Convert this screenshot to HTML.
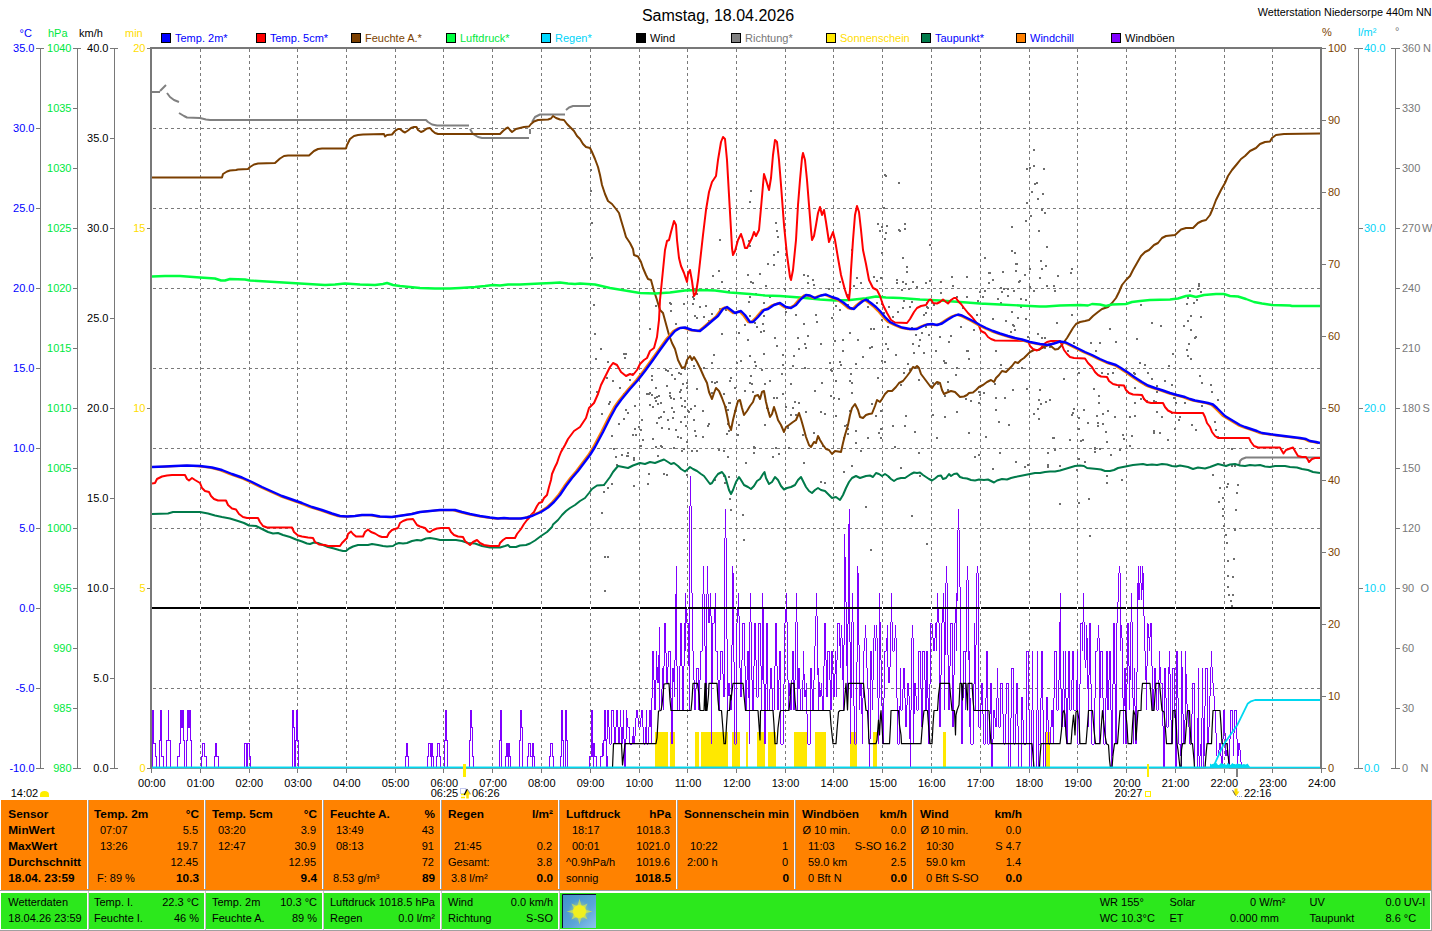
<!DOCTYPE html>
<html><head><meta charset="utf-8"><title>Wetterstation Niedersorpe</title>
<style>
html,body{margin:0;padding:0;background:#fff;}
body{width:1432px;height:931px;position:relative;overflow:hidden;font-family:"Liberation Sans",sans-serif;}
svg{position:absolute;left:0;top:0;}
.t{position:absolute;white-space:nowrap;line-height:1;font-size:11px;height:1em;}
</style></head><body>
<svg width="1432" height="931" viewBox="0 0 1432 931">
<path d="M200.5 49V768 M249.5 49V768 M297.5 49V768 M346.5 49V768 M395.5 49V768 M443.5 49V768 M492.5 49V768 M541.5 49V768 M590.5 49V768 M639.5 49V768 M687.5 49V768 M736.5 49V768 M785.5 49V768 M833.5 49V768 M882.5 49V768 M931.5 49V768 M980.5 49V768 M1029.5 49V768 M1077.5 49V768 M1126.5 49V768 M1175.5 49V768 M1224.5 49V768 M1272.5 49V768 M153 128.5H1321 M153 208.5H1321 M153 288.5H1321 M153 368.5H1321 M153 448.5H1321 M153 528.5H1321 M153 688.5H1321" stroke="#7a7a7a" stroke-width="1" stroke-dasharray="3 3" fill="none" shape-rendering="crispEdges"/>
<path d="M40.5 48V769 M36 48.5H44 M36 768.5H44 M36 48.5H41 M36 128.5H41 M36 208.5H41 M36 288.5H41 M36 368.5H41 M36 448.5H41 M36 528.5H41 M36 608.5H41 M36 688.5H41 M36 768.5H41 M77.5 48V769 M73 48.5H81 M73 768.5H81 M73 48.5H78 M73 108.5H78 M73 168.5H78 M73 228.5H78 M73 288.5H78 M73 348.5H78 M73 408.5H78 M73 468.5H78 M73 528.5H78 M73 588.5H78 M73 648.5H78 M73 708.5H78 M73 768.5H78 M114.5 48V769 M110 48.5H118 M110 768.5H118 M110 48.5H115 M110 138.5H115 M110 228.5H115 M110 318.5H115 M110 408.5H115 M110 498.5H115 M110 588.5H115 M110 678.5H115 M110 768.5H115 M147 48.5H150 M147 228.5H150 M147 408.5H150 M147 588.5H150 M147 768.5H150 M1321 48.5H1326 M1321 120.5H1326 M1321 192.5H1326 M1321 264.5H1326 M1321 336.5H1326 M1321 408.5H1326 M1321 480.5H1326 M1321 552.5H1326 M1321 624.5H1326 M1321 696.5H1326 M1321 768.5H1326 M1358.5 48V769 M1354 48.5H1363 M1358 228.5H1363 M1358 408.5H1363 M1358 588.5H1363 M1354 768.5H1363 M1395.5 48V769 M1391 48.5H1400 M1395 108.5H1400 M1395 168.5H1400 M1395 228.5H1400 M1395 288.5H1400 M1395 348.5H1400 M1395 408.5H1400 M1395 468.5H1400 M1395 528.5H1400 M1395 588.5H1400 M1395 648.5H1400 M1395 708.5H1400 M1391 768.5H1400" stroke="#787878" stroke-width="1" fill="none" shape-rendering="crispEdges"/>
<path d="M151.5 769V773 M200.5 769V773 M249.5 769V773 M297.5 769V773 M346.5 769V773 M395.5 769V773 M443.5 769V773 M492.5 769V773 M541.5 769V773 M590.5 769V773 M639.5 769V773 M687.5 769V773 M736.5 769V773 M785.5 769V773 M833.5 769V773 M882.5 769V773 M931.5 769V773 M980.5 769V773 M1029.5 769V773 M1077.5 769V773 M1126.5 769V773 M1175.5 769V773 M1224.5 769V773 M1272.5 769V773 M1321.5 769V773" stroke="#787878" stroke-width="1" fill="none" shape-rendering="crispEdges"/>
<rect x="161.5" y="33.5" width="9" height="9" fill="#0000ff" stroke="#000" stroke-width="1" shape-rendering="crispEdges"/>
<rect x="256.5" y="33.5" width="9" height="9" fill="#ff0000" stroke="#000" stroke-width="1" shape-rendering="crispEdges"/>
<rect x="351.5" y="33.5" width="9" height="9" fill="#7b3f00" stroke="#000" stroke-width="1" shape-rendering="crispEdges"/>
<rect x="446.5" y="33.5" width="9" height="9" fill="#00ff40" stroke="#000" stroke-width="1" shape-rendering="crispEdges"/>
<rect x="541.5" y="33.5" width="9" height="9" fill="#00d8ff" stroke="#000" stroke-width="1" shape-rendering="crispEdges"/>
<rect x="636.5" y="33.5" width="9" height="9" fill="#000" stroke="#000" stroke-width="1" shape-rendering="crispEdges"/>
<rect x="731.5" y="33.5" width="9" height="9" fill="#808080" stroke="#000" stroke-width="1" shape-rendering="crispEdges"/>
<rect x="826.5" y="33.5" width="9" height="9" fill="#ffe800" stroke="#000" stroke-width="1" shape-rendering="crispEdges"/>
<rect x="921.5" y="33.5" width="9" height="9" fill="#007a4a" stroke="#000" stroke-width="1" shape-rendering="crispEdges"/>
<rect x="1016.5" y="33.5" width="9" height="9" fill="#ff8000" stroke="#000" stroke-width="1" shape-rendering="crispEdges"/>
<rect x="1111.5" y="33.5" width="9" height="9" fill="#8000ff" stroke="#000" stroke-width="1" shape-rendering="crispEdges"/>
<clipPath id="pc"><rect x="152" y="48" width="1169" height="720.5"/></clipPath>
<g clip-path="url(#pc)">
<rect x="655.0" y="732" width="12.9" height="36" fill="#ffe800" shape-rendering="crispEdges"/>
<rect x="670.0" y="732" width="4.9" height="36" fill="#ffe800" shape-rendering="crispEdges"/>
<rect x="695.0" y="732" width="3.9" height="36" fill="#ffe800" shape-rendering="crispEdges"/>
<rect x="700.9" y="732" width="27.3" height="36" fill="#ffe800" shape-rendering="crispEdges"/>
<rect x="732.4" y="732" width="7.6" height="36" fill="#ffe800" shape-rendering="crispEdges"/>
<rect x="746.1" y="732" width="1.9" height="36" fill="#ffe800" shape-rendering="crispEdges"/>
<rect x="757.0" y="732" width="8.0" height="36" fill="#ffe800" shape-rendering="crispEdges"/>
<rect x="768.1" y="732" width="7.9" height="36" fill="#ffe800" shape-rendering="crispEdges"/>
<rect x="794.0" y="732" width="13.0" height="36" fill="#ffe800" shape-rendering="crispEdges"/>
<rect x="815.0" y="732" width="10.9" height="36" fill="#ffe800" shape-rendering="crispEdges"/>
<rect x="850.4" y="732" width="6.4" height="36" fill="#ffe800" shape-rendering="crispEdges"/>
<rect x="873.0" y="732" width="3.9" height="36" fill="#ffe800" shape-rendering="crispEdges"/>
<rect x="943.0" y="732" width="3.0" height="36" fill="#ffe800" shape-rendering="crispEdges"/>
<rect x="1045.8" y="732" width="4.0" height="36" fill="#ffe800" shape-rendering="crispEdges"/>
<path d="M884 174h2v2h-2z M885 175h2v2h-2z M898 182h2v2h-2z M883 207h2v2h-2z M877 223h2v2h-2z M881 226h2v2h-2z M886 225h2v2h-2z M879 230h2v2h-2z M885 232h2v2h-2z M884 238h2v2h-2z M904 223h2v2h-2z M898 229h2v2h-2z M899 230h2v2h-2z M904 228h2v2h-2z M929 244h2v2h-2z M881 252h2v2h-2z M902 257h2v2h-2z M906 266h2v2h-2z M906 271h2v2h-2z M876 280h2v2h-2z M896 282h2v2h-2z M902 281h2v2h-2z M901 289h2v2h-2z M908 288h2v2h-2z M929 280h2v2h-2z M952 285h2v2h-2z M984 257h2v2h-2z M1011 226h2v2h-2z M1011 250h2v2h-2z M1014 252h2v2h-2z M1015 263h2v2h-2z M1016 263h2v2h-2z M1002 271h2v2h-2z M1015 270h2v2h-2z M1024 274h2v2h-2z M1029 268h2v2h-2z M1018 281h2v2h-2z M1019 280h2v2h-2z M1003 288h2v2h-2z M1013 290h2v2h-2z M1029 286h2v2h-2z M1033 149h2v2h-2z M1026 168h2v2h-2z M1029 167h2v2h-2z M1033 165h2v2h-2z M1043 168h2v2h-2z M1034 183h2v2h-2z M1036 182h2v2h-2z M1031 191h2v2h-2z M1042 193h2v2h-2z M1037 198h2v2h-2z M1026 202h2v2h-2z M1041 209h2v2h-2z M1044 212h2v2h-2z M1030 215h2v2h-2z M1025 220h2v2h-2z M1038 230h2v2h-2z M1046 246h2v2h-2z M1040 260h2v2h-2z M1045 265h2v2h-2z M1041 268h2v2h-2z M1071 268h2v2h-2z M1046 285h2v2h-2z M1053 285h2v2h-2z M1198 283h2v2h-2z M1197 288h2v2h-2z M1236 492h2v2h-2z M1222 497h2v2h-2z M1218 501h2v2h-2z M1222 508h2v2h-2z M1235 509h2v2h-2z M1222 515h2v2h-2z M1223 525h2v2h-2z M1234 529h2v2h-2z M1225 534h2v2h-2z M1226 542h2v2h-2z M1227 560h2v2h-2z M1233 558h2v2h-2z M1227 575h2v2h-2z M1232 576h2v2h-2z M1227 586h2v2h-2z M1228 594h2v2h-2z M1232 594h2v2h-2z M1230 600h2v2h-2z M1231 605h2v2h-2z M1088 498h2v2h-2z M1089 535h2v2h-2z M719 239h2v2h-2z M718 270h2v2h-2z M712 275h2v2h-2z M721 281h2v2h-2z M750 190h2v2h-2z M749 201h2v2h-2z M748 240h2v2h-2z M749 245h2v2h-2z M775 222h2v2h-2z M776 230h2v2h-2z M777 236h2v2h-2z M777 251h2v2h-2z M773 254h2v2h-2z M767 263h2v2h-2z M773 264h2v2h-2z M747 274h2v2h-2z M759 273h2v2h-2z M752 282h2v2h-2z M765 285h2v2h-2z M803 274h2v2h-2z M807 275h2v2h-2z M812 279h2v2h-2z M807 282h2v2h-2z M851 249h2v2h-2z M853 285h2v2h-2z M590 169h2v2h-2z M590 190h2v2h-2z M591 222h2v2h-2z M591 257h2v2h-2z M593 304h2v2h-2z M594 333h2v2h-2z M600 348h2v2h-2z M595 358h2v2h-2z M603 491h2v2h-2z M607 487h2v2h-2z M601 512h2v2h-2z M633 485h2v2h-2z M647 483h2v2h-2z M607 556h2v2h-2z M604 590h2v2h-2z M604 556h2v2h-2z M728 476h2v2h-2z M729 498h2v2h-2z M730 509h2v2h-2z M742 514h2v2h-2z M743 539h2v2h-2z M865 506h2v2h-2z M911 515h2v2h-2z M870 549h2v2h-2z M926 543h2v2h-2z M1059 503h2v2h-2z M1078 502h2v2h-2z M606 377h2v2h-2z M612 380h2v2h-2z M623 353h2v2h-2z M596 391h2v2h-2z M607 361h2v2h-2z M639 373h2v2h-2z M632 373h2v2h-2z M624 357h2v2h-2z M623 393h2v2h-2z M619 387h2v2h-2z M625 353h2v2h-2z M629 379h2v2h-2z M609 401h2v2h-2z M634 428h2v2h-2z M627 452h2v2h-2z M627 455h2v2h-2z M613 448h2v2h-2z M615 456h2v2h-2z M634 405h2v2h-2z M601 413h2v2h-2z M638 426h2v2h-2z M623 418h2v2h-2z M618 423h2v2h-2z M611 435h2v2h-2z M621 454h2v2h-2z M626 455h2v2h-2z M633 459h2v2h-2z M625 409h2v2h-2z M633 457h2v2h-2z M635 434h2v2h-2z M627 412h2v2h-2z M632 434h2v2h-2z M608 403h2v2h-2z M633 459h2v2h-2z M603 484h2v2h-2z M616 464h2v2h-2z M611 483h2v2h-2z M683 303h2v2h-2z M670 303h2v2h-2z M675 323h2v2h-2z M684 368h2v2h-2z M665 369h2v2h-2z M655 305h2v2h-2z M669 302h2v2h-2z M649 328h2v2h-2z M670 310h2v2h-2z M642 439h2v2h-2z M655 446h2v2h-2z M684 400h2v2h-2z M663 411h2v2h-2z M672 417h2v2h-2z M667 419h2v2h-2z M687 410h2v2h-2z M661 427h2v2h-2z M651 394h2v2h-2z M688 411h2v2h-2z M667 370h2v2h-2z M660 416h2v2h-2z M641 419h2v2h-2z M671 374h2v2h-2z M671 407h2v2h-2z M673 398h2v2h-2z M675 429h2v2h-2z M641 374h2v2h-2z M673 447h2v2h-2z M652 406h2v2h-2z M669 395h2v2h-2z M658 395h2v2h-2z M658 417h2v2h-2z M655 400h2v2h-2z M678 372h2v2h-2z M668 428h2v2h-2z M655 387h2v2h-2z M680 389h2v2h-2z M649 404h2v2h-2z M674 378h2v2h-2z M656 396h2v2h-2z M681 405h2v2h-2z M682 383h2v2h-2z M656 422h2v2h-2z M684 406h2v2h-2z M651 379h2v2h-2z M666 385h2v2h-2z M680 437h2v2h-2z M649 392h2v2h-2z M680 421h2v2h-2z M680 397h2v2h-2z M646 393h2v2h-2z M679 391h2v2h-2z M657 403h2v2h-2z M660 402h2v2h-2z M686 382h2v2h-2z M640 445h2v2h-2z M683 448h2v2h-2z M661 446h2v2h-2z M686 387h2v2h-2z M677 436h2v2h-2z M673 411h2v2h-2z M654 397h2v2h-2z M651 375h2v2h-2z M669 392h2v2h-2z M680 373h2v2h-2z M685 425h2v2h-2z M686 441h2v2h-2z M684 416h2v2h-2z M640 429h2v2h-2z M648 393h2v2h-2z M673 411h2v2h-2z M660 445h2v2h-2z M670 397h2v2h-2z M652 438h2v2h-2z M663 473h2v2h-2z M657 455h2v2h-2z M666 474h2v2h-2z M648 473h2v2h-2z M686 474h2v2h-2z M681 450h2v2h-2z M721 333h2v2h-2z M692 303h2v2h-2z M703 316h2v2h-2z M711 313h2v2h-2z M728 290h2v2h-2z M692 296h2v2h-2z M696 293h2v2h-2z M738 332h2v2h-2z M694 315h2v2h-2z M705 305h2v2h-2z M707 322h2v2h-2z M719 308h2v2h-2z M699 306h2v2h-2z M696 317h2v2h-2z M725 309h2v2h-2z M693 298h2v2h-2z M708 320h2v2h-2z M729 309h2v2h-2z M730 377h2v2h-2z M711 362h2v2h-2z M714 382h2v2h-2z M711 381h2v2h-2z M713 354h2v2h-2z M716 381h2v2h-2z M693 365h2v2h-2z M711 392h2v2h-2z M736 362h2v2h-2z M734 387h2v2h-2z M703 367h2v2h-2z M696 388h2v2h-2z M723 393h2v2h-2z M729 380h2v2h-2z M726 433h2v2h-2z M695 435h2v2h-2z M690 408h2v2h-2z M728 402h2v2h-2z M694 405h2v2h-2z M734 410h2v2h-2z M691 450h2v2h-2z M696 450h2v2h-2z M723 450h2v2h-2z M737 434h2v2h-2z M729 402h2v2h-2z M728 430h2v2h-2z M725 406h2v2h-2z M727 456h2v2h-2z M693 419h2v2h-2z M718 449h2v2h-2z M702 410h2v2h-2z M702 436h2v2h-2z M727 423h2v2h-2z M708 423h2v2h-2z M707 425h2v2h-2z M694 430h2v2h-2z M738 424h2v2h-2z M727 409h2v2h-2z M724 482h2v2h-2z M723 475h2v2h-2z M714 479h2v2h-2z M784 288h2v2h-2z M744 324h2v2h-2z M785 311h2v2h-2z M762 323h2v2h-2z M749 296h2v2h-2z M749 315h2v2h-2z M755 293h2v2h-2z M774 337h2v2h-2z M754 322h2v2h-2z M760 331h2v2h-2z M769 296h2v2h-2z M750 281h2v2h-2z M763 302h2v2h-2z M748 301h2v2h-2z M756 326h2v2h-2z M747 339h2v2h-2z M763 315h2v2h-2z M763 330h2v2h-2z M781 373h2v2h-2z M764 383h2v2h-2z M782 364h2v2h-2z M776 397h2v2h-2z M763 353h2v2h-2z M751 383h2v2h-2z M773 397h2v2h-2z M782 354h2v2h-2z M749 355h2v2h-2z M749 382h2v2h-2z M782 393h2v2h-2z M752 391h2v2h-2z M755 365h2v2h-2z M776 345h2v2h-2z M744 390h2v2h-2z M754 361h2v2h-2z M769 380h2v2h-2z M740 360h2v2h-2z M761 369h2v2h-2z M750 375h2v2h-2z M787 427h2v2h-2z M767 408h2v2h-2z M753 446h2v2h-2z M745 462h2v2h-2z M785 406h2v2h-2z M787 426h2v2h-2z M778 453h2v2h-2z M754 447h2v2h-2z M772 456h2v2h-2z M753 452h2v2h-2z M788 447h2v2h-2z M766 407h2v2h-2z M764 424h2v2h-2z M775 447h2v2h-2z M768 412h2v2h-2z M839 309h2v2h-2z M803 323h2v2h-2z M839 281h2v2h-2z M860 282h2v2h-2z M815 314h2v2h-2z M835 305h2v2h-2z M839 300h2v2h-2z M813 284h2v2h-2z M795 314h2v2h-2z M847 304h2v2h-2z M846 294h2v2h-2z M810 296h2v2h-2z M856 277h2v2h-2z M828 288h2v2h-2z M848 294h2v2h-2z M815 297h2v2h-2z M831 317h2v2h-2z M816 321h2v2h-2z M798 348h2v2h-2z M797 337h2v2h-2z M849 380h2v2h-2z M804 343h2v2h-2z M821 382h2v2h-2z M851 382h2v2h-2z M834 340h2v2h-2z M820 343h2v2h-2z M830 369h2v2h-2z M805 347h2v2h-2z M849 332h2v2h-2z M851 392h2v2h-2z M862 356h2v2h-2z M831 370h2v2h-2z M838 398h2v2h-2z M842 350h2v2h-2z M855 363h2v2h-2z M835 380h2v2h-2z M790 383h2v2h-2z M840 364h2v2h-2z M829 362h2v2h-2z M804 367h2v2h-2z M792 365h2v2h-2z M839 361h2v2h-2z M833 397h2v2h-2z M857 339h2v2h-2z M850 373h2v2h-2z M793 355h2v2h-2z M807 335h2v2h-2z M830 395h2v2h-2z M814 390h2v2h-2z M842 339h2v2h-2z M855 442h2v2h-2z M860 450h2v2h-2z M846 424h2v2h-2z M851 465h2v2h-2z M855 430h2v2h-2z M847 433h2v2h-2z M798 402h2v2h-2z M795 414h2v2h-2z M802 434h2v2h-2z M843 437h2v2h-2z M822 445h2v2h-2z M813 432h2v2h-2z M847 428h2v2h-2z M803 462h2v2h-2z M844 425h2v2h-2z M818 437h2v2h-2z M835 415h2v2h-2z M790 414h2v2h-2z M849 410h2v2h-2z M824 413h2v2h-2z M805 411h2v2h-2z M820 411h2v2h-2z M792 407h2v2h-2z M802 434h2v2h-2z M794 401h2v2h-2z M824 482h2v2h-2z M843 471h2v2h-2z M820 481h2v2h-2z M867 299h2v2h-2z M880 277h2v2h-2z M896 279h2v2h-2z M905 283h2v2h-2z M873 276h2v2h-2z M912 281h2v2h-2z M916 286h2v2h-2z M925 282h2v2h-2z M881 319h2v2h-2z M918 345h2v2h-2z M888 306h2v2h-2z M909 369h2v2h-2z M903 300h2v2h-2z M867 306h2v2h-2z M876 302h2v2h-2z M869 347h2v2h-2z M923 314h2v2h-2z M928 334h2v2h-2z M917 366h2v2h-2z M926 302h2v2h-2z M885 343h2v2h-2z M926 306h2v2h-2z M884 361h2v2h-2z M873 328h2v2h-2z M887 348h2v2h-2z M925 312h2v2h-2z M913 352h2v2h-2z M919 339h2v2h-2z M925 326h2v2h-2z M892 316h2v2h-2z M915 334h2v2h-2z M883 312h2v2h-2z M912 343h2v2h-2z M911 327h2v2h-2z M897 311h2v2h-2z M911 301h2v2h-2z M895 354h2v2h-2z M909 306h2v2h-2z M881 360h2v2h-2z M907 363h2v2h-2z M921 332h2v2h-2z M923 352h2v2h-2z M887 326h2v2h-2z M870 328h2v2h-2z M927 307h2v2h-2z M902 307h2v2h-2z M871 346h2v2h-2z M881 303h2v2h-2z M875 415h2v2h-2z M903 372h2v2h-2z M880 437h2v2h-2z M880 410h2v2h-2z M892 425h2v2h-2z M904 425h2v2h-2z M900 384h2v2h-2z M877 377h2v2h-2z M918 379h2v2h-2z M867 437h2v2h-2z M878 432h2v2h-2z M871 403h2v2h-2z M880 428h2v2h-2z M905 415h2v2h-2z M914 431h2v2h-2z M888 476h2v2h-2z M894 446h2v2h-2z M919 475h2v2h-2z M918 452h2v2h-2z M900 467h2v2h-2z M966 276h2v2h-2z M947 300h2v2h-2z M933 304h2v2h-2z M966 296h2v2h-2z M962 307h2v2h-2z M940 292h2v2h-2z M979 291h2v2h-2z M951 276h2v2h-2z M940 281h2v2h-2z M976 314h2v2h-2z M973 329h2v2h-2z M960 326h2v2h-2z M956 296h2v2h-2z M977 324h2v2h-2z M977 300h2v2h-2z M968 358h2v2h-2z M979 394h2v2h-2z M944 395h2v2h-2z M939 336h2v2h-2z M966 350h2v2h-2z M955 374h2v2h-2z M932 382h2v2h-2z M943 360h2v2h-2z M947 381h2v2h-2z M967 350h2v2h-2z M935 350h2v2h-2z M950 335h2v2h-2z M937 383h2v2h-2z M965 398h2v2h-2z M978 391h2v2h-2z M948 341h2v2h-2z M945 362h2v2h-2z M956 367h2v2h-2z M947 389h2v2h-2z M944 362h2v2h-2z M974 456h2v2h-2z M944 416h2v2h-2z M970 400h2v2h-2z M936 437h2v2h-2z M956 411h2v2h-2z M932 414h2v2h-2z M968 432h2v2h-2z M978 454h2v2h-2z M978 402h2v2h-2z M989 272h2v2h-2z M1001 291h2v2h-2z M982 303h2v2h-2z M984 290h2v2h-2z M992 318h2v2h-2z M1000 287h2v2h-2z M982 296h2v2h-2z M1011 311h2v2h-2z M1025 318h2v2h-2z M992 279h2v2h-2z M1017 317h2v2h-2z M1005 320h2v2h-2z M1007 288h2v2h-2z M988 272h2v2h-2z M1012 324h2v2h-2z M1025 299h2v2h-2z M1013 325h2v2h-2z M1020 306h2v2h-2z M1000 302h2v2h-2z M988 282h2v2h-2z M1014 329h2v2h-2z M1007 295h2v2h-2z M997 298h2v2h-2z M1020 298h2v2h-2z M1027 336h2v2h-2z M995 350h2v2h-2z M1000 364h2v2h-2z M1021 367h2v2h-2z M1010 331h2v2h-2z M1008 424h2v2h-2z M1004 397h2v2h-2z M1015 461h2v2h-2z M985 436h2v2h-2z M998 421h2v2h-2z M1024 466h2v2h-2z M1012 389h2v2h-2z M1026 388h2v2h-2z M999 452h2v2h-2z M995 397h2v2h-2z M1027 464h2v2h-2z M995 409h2v2h-2z M994 383h2v2h-2z M992 468h2v2h-2z M983 392h2v2h-2z M1039 277h2v2h-2z M1056 322h2v2h-2z M1071 314h2v2h-2z M1070 272h2v2h-2z M1044 337h2v2h-2z M1033 290h2v2h-2z M1054 290h2v2h-2z M1057 275h2v2h-2z M1041 337h2v2h-2z M1037 333h2v2h-2z M1038 399h2v2h-2z M1063 378h2v2h-2z M1037 343h2v2h-2z M1067 350h2v2h-2z M1039 389h2v2h-2z M1073 342h2v2h-2z M1078 372h2v2h-2z M1049 346h2v2h-2z M1049 399h2v2h-2z M1044 347h2v2h-2z M1037 408h2v2h-2z M1047 464h2v2h-2z M1033 413h2v2h-2z M1076 469h2v2h-2z M1078 417h2v2h-2z M1047 466h2v2h-2z M1054 449h2v2h-2z M1045 401h2v2h-2z M1047 452h2v2h-2z M1069 439h2v2h-2z M1053 437h2v2h-2z M1052 437h2v2h-2z M1071 414h2v2h-2z M1059 465h2v2h-2z M1072 412h2v2h-2z M1078 458h2v2h-2z M1038 418h2v2h-2z M1040 403h2v2h-2z M1078 428h2v2h-2z M1073 408h2v2h-2z M1080 440h2v2h-2z M1119 449h2v2h-2z M1114 416h2v2h-2z M1118 386h2v2h-2z M1107 410h2v2h-2z M1087 422h2v2h-2z M1096 415h2v2h-2z M1098 402h2v2h-2z M1097 422h2v2h-2z M1129 445h2v2h-2z M1123 438h2v2h-2z M1094 448h2v2h-2z M1093 388h2v2h-2z M1105 431h2v2h-2z M1097 425h2v2h-2z M1094 447h2v2h-2z M1102 413h2v2h-2z M1106 441h2v2h-2z M1129 416h2v2h-2z M1102 423h2v2h-2z M1083 409h2v2h-2z M1122 434h2v2h-2z M1082 439h2v2h-2z M1099 448h2v2h-2z M1098 395h2v2h-2z M1107 373h2v2h-2z M1101 372h2v2h-2z M1115 341h2v2h-2z M1095 350h2v2h-2z M1099 342h2v2h-2z M1112 372h2v2h-2z M1109 328h2v2h-2z M1090 342h2v2h-2z M1110 454h2v2h-2z M1084 461h2v2h-2z M1094 451h2v2h-2z M1106 482h2v2h-2z M1106 475h2v2h-2z M1121 479h2v2h-2z M1175 402h2v2h-2z M1164 380h2v2h-2z M1173 397h2v2h-2z M1153 432h2v2h-2z M1144 384h2v2h-2z M1171 412h2v2h-2z M1134 373h2v2h-2z M1147 372h2v2h-2z M1171 384h2v2h-2z M1143 398h2v2h-2z M1155 401h2v2h-2z M1161 416h2v2h-2z M1151 378h2v2h-2z M1178 419h2v2h-2z M1134 402h2v2h-2z M1167 439h2v2h-2z M1133 372h2v2h-2z M1153 400h2v2h-2z M1174 428h2v2h-2z M1146 400h2v2h-2z M1159 432h2v2h-2z M1140 398h2v2h-2z M1134 415h2v2h-2z M1131 435h2v2h-2z M1156 411h2v2h-2z M1134 387h2v2h-2z M1153 430h2v2h-2z M1156 391h2v2h-2z M1179 416h2v2h-2z M1156 385h2v2h-2z M1144 364h2v2h-2z M1136 338h2v2h-2z M1160 325h2v2h-2z M1168 365h2v2h-2z M1172 353h2v2h-2z M1140 304h2v2h-2z M1151 322h2v2h-2z M1139 362h2v2h-2z M1187 355h2v2h-2z M1200 291h2v2h-2z M1200 316h2v2h-2z M1187 297h2v2h-2z M1183 325h2v2h-2z M1190 358h2v2h-2z M1198 285h2v2h-2z M1190 315h2v2h-2z M1186 303h2v2h-2z M1188 343h2v2h-2z M1189 290h2v2h-2z M1187 320h2v2h-2z M1193 302h2v2h-2z M1196 299h2v2h-2z M1195 336h2v2h-2z M1186 349h2v2h-2z M1190 329h2v2h-2z M1194 337h2v2h-2z M1199 375h2v2h-2z M1214 421h2v2h-2z M1201 405h2v2h-2z M1191 424h2v2h-2z M1210 384h2v2h-2z M1215 429h2v2h-2z M1195 429h2v2h-2z M1201 382h2v2h-2z M1211 391h2v2h-2z M1212 405h2v2h-2z M1184 402h2v2h-2z M1217 399h2v2h-2z M1226 486h2v2h-2z M1223 462h2v2h-2z M1227 483h2v2h-2z M1217 436h2v2h-2z M1231 465h2v2h-2z M1219 487h2v2h-2z M1234 465h2v2h-2z M1237 484h2v2h-2z M1231 448h2v2h-2z M1212 474h2v2h-2z" fill="#6e6e6e" shape-rendering="crispEdges"/>
<path d="M152.0 92.0 L160.0 92.0" stroke="#808080" stroke-width="2" fill="none" stroke-linejoin="round" />
<path d="M160.0 91.0 L163.0 88.0 L166.0 85.0" stroke="#808080" stroke-width="2" fill="none" stroke-linejoin="round" />
<path d="M167.0 93.0 L170.0 97.0 L174.0 100.0 L179.0 102.0" stroke="#808080" stroke-width="2" fill="none" stroke-linejoin="round" />
<path d="M179.0 113.0 L184.0 116.0 L187.0 117.5 L200.0 118.0 L206.0 119.5 L210.0 120.0 L426.0 120.0 L428.0 122.0 L432.0 124.5 L437.0 125.5 L469.0 125.5" stroke="#808080" stroke-width="2" fill="none" stroke-linejoin="round" />
<path d="M470.0 129.0 L473.0 134.0 L478.0 137.0 L482.0 138.0 L529.0 138.0" stroke="#808080" stroke-width="2" fill="none" stroke-linejoin="round" />
<path d="M530.0 134.0 L530.0 129.0" stroke="#808080" stroke-width="2" fill="none" stroke-linejoin="round" />
<path d="M532.0 122.0 L535.0 117.0 L540.0 114.5 L565.0 114.5" stroke="#808080" stroke-width="2" fill="none" stroke-linejoin="round" />
<path d="M566.0 110.0 L569.0 107.5 L573.0 106.0 L590.0 106.0" stroke="#808080" stroke-width="2" fill="none" stroke-linejoin="round" />
<path d="M1239.0 466.0 L1240.0 461.0 L1242.0 459.0 L1246.0 457.5 L1320.0 457.5" stroke="#808080" stroke-width="2" fill="none" stroke-linejoin="round" />
<path d="M152.0 177.5 L222.0 177.5 L223.0 174.0 L227.0 171.5 L230.0 170.5 L236.0 170.0 L238.0 169.5 L248.0 169.0 L250.0 167.0 L254.0 164.5 L258.0 163.5 L275.0 163.0 L280.0 158.5 L284.0 156.0 L288.0 155.5 L309.0 155.5 L314.0 151.0 L318.0 149.0 L322.0 148.5 L346.0 148.5 L347.0 145.0 L350.0 139.0 L354.0 136.0 L358.0 135.0 L363.0 134.5 L384.0 134.0 L385.0 136.5 L387.0 135.0 L392.0 134.5 L395.0 131.0 L398.0 129.0 L400.0 129.0 L403.0 131.5 L405.0 132.5 L408.0 130.5 L411.0 128.0 L414.0 127.0 L416.5 127.0 L418.0 130.0 L421.0 132.0 L423.5 131.0 L427.0 128.5 L430.0 128.0 L432.0 130.5 L435.0 133.0 L438.0 134.0 L500.0 134.0 L503.0 131.0 L506.0 128.5 L508.0 127.5 L510.0 130.0 L512.0 132.0 L516.0 129.0 L520.0 128.0 L524.0 127.0 L529.0 126.5 L531.0 124.0 L534.0 121.5 L538.0 120.0 L548.0 119.5 L551.0 118.5 L553.0 116.0 L556.0 118.0 L560.0 119.5 L564.0 120.0 L567.0 124.0 L570.0 127.0 L574.0 131.0 L577.0 136.0 L580.0 139.0 L583.0 144.0 L586.0 147.0 L590.0 148.0 L592.0 152.0 L595.0 159.0 L598.0 167.0 L600.0 175.0 L602.0 185.0 L605.0 194.0 L608.0 201.0 L612.0 204.0 L616.0 209.0 L619.0 213.0 L621.0 220.0 L624.0 230.0 L626.0 237.0 L630.0 243.0 L633.0 249.0 L634.0 255.0 L638.0 256.5 L641.0 262.0 L643.0 268.0 L646.0 275.0 L648.0 279.0 L651.0 280.0 L654.0 291.0 L657.0 300.0 L660.0 310.0 L663.0 313.0 L666.0 324.0 L669.0 335.0 L672.0 343.0 L675.0 349.0 L678.0 360.0 L682.0 368.0 L685.0 367.0 L687.0 360.0 L690.0 356.0 L692.0 360.0 L694.0 357.0 L697.0 362.0 L700.0 368.0 L704.0 377.0 L707.0 383.0 L709.0 392.0 L712.0 399.0 L714.0 393.0 L716.0 388.0 L719.0 391.0 L722.0 398.0 L725.0 406.0 L727.0 415.0 L729.0 425.0 L731.0 430.0 L733.0 420.0 L736.0 408.0 L738.0 401.0 L740.0 400.0 L742.0 408.0 L744.0 415.0 L747.0 411.0 L750.0 406.0 L753.0 402.0 L755.0 396.0 L758.0 395.0 L760.0 399.0 L762.0 392.0 L764.0 391.0 L766.0 402.0 L768.0 410.0 L770.0 417.0 L772.0 414.0 L774.0 407.0 L776.0 413.0 L778.0 420.0 L781.0 425.0 L784.0 432.0 L786.0 427.0 L789.0 425.0 L793.0 422.0 L796.0 420.0 L799.0 413.0 L801.0 419.0 L803.0 426.0 L806.0 437.0 L809.0 445.0 L811.0 447.0 L814.0 442.0 L816.0 443.0 L818.0 436.0 L820.0 440.0 L823.0 445.0 L826.0 449.0 L829.0 450.0 L832.0 454.0 L835.0 451.0 L838.0 451.5 L841.0 452.0 L843.0 443.0 L845.0 435.0 L848.0 425.0 L850.0 415.0 L852.0 408.0 L855.0 404.0 L858.0 410.0 L860.0 417.0 L863.0 418.0 L866.0 415.0 L869.0 414.0 L872.0 413.5 L875.0 406.0 L877.0 400.0 L880.0 402.0 L882.0 399.0 L885.0 394.0 L888.0 391.0 L892.0 391.0 L896.0 387.0 L899.0 383.0 L903.0 381.0 L907.0 376.0 L910.0 372.0 L913.0 367.0 L915.0 368.0 L917.0 366.0 L919.0 368.0 L921.0 374.0 L924.0 378.0 L927.0 382.0 L930.0 386.0 L932.0 388.0 L934.0 385.0 L937.0 382.0 L940.0 383.0 L942.0 390.0 L944.0 394.0 L947.0 392.5 L951.0 391.0 L955.0 392.0 L958.0 395.0 L960.0 397.0 L964.0 396.5 L967.0 395.0 L969.0 393.0 L973.0 392.5 L976.0 390.0 L979.0 387.0 L983.0 385.0 L987.0 382.0 L991.0 380.0 L994.0 382.0 L996.0 378.0 L999.0 375.0 L1002.0 371.0 L1006.0 372.0 L1009.0 369.0 L1012.0 366.0 L1015.0 362.0 L1018.0 363.0 L1021.0 360.0 L1024.0 358.0 L1027.0 355.0 L1030.0 352.0 L1034.0 350.0 L1039.0 350.0 L1042.0 348.0 L1046.0 346.0 L1049.0 344.5 L1052.0 347.0 L1055.0 349.5 L1058.0 349.0 L1061.0 346.0 L1064.0 342.0 L1067.0 338.0 L1070.0 333.0 L1073.0 328.0 L1076.0 324.0 L1080.0 322.0 L1085.0 321.0 L1089.0 320.0 L1093.0 316.0 L1098.0 312.0 L1102.0 309.0 L1108.0 307.0 L1112.0 303.0 L1116.0 298.0 L1119.0 292.0 L1122.0 285.0 L1126.0 280.0 L1130.0 276.0 L1133.0 270.0 L1137.0 263.0 L1141.0 256.0 L1145.0 252.0 L1149.0 250.0 L1154.0 245.0 L1158.0 243.0 L1162.0 238.0 L1166.0 236.0 L1175.0 235.0 L1181.0 229.5 L1186.0 228.0 L1193.0 228.0 L1198.0 223.0 L1202.0 221.0 L1206.0 220.0 L1210.0 215.0 L1213.0 208.0 L1216.0 200.0 L1221.0 190.0 L1225.0 183.0 L1228.0 176.0 L1232.0 170.0 L1237.0 164.0 L1241.0 159.0 L1245.0 156.0 L1250.0 151.0 L1256.0 148.0 L1260.0 144.0 L1265.0 142.0 L1270.0 141.5 L1272.0 138.0 L1276.0 135.0 L1284.0 134.0 L1320.0 133.5" stroke="#7b3f00" stroke-width="2" fill="none" stroke-linejoin="round" />
<path d="M152.0 276.5 L165.0 276.0 L180.0 276.0 L200.0 277.5 L215.0 278.5 L221.0 280.5 L225.0 280.5 L230.0 279.0 L245.0 279.5 L250.0 280.5 L275.0 282.0 L300.0 283.5 L325.0 285.0 L335.0 284.5 L345.0 283.5 L360.0 284.5 L375.0 285.0 L383.0 284.0 L387.0 283.0 L393.0 285.0 L400.0 286.0 L420.0 288.0 L435.0 288.5 L450.0 288.5 L460.0 288.0 L475.0 287.0 L485.0 286.0 L493.0 285.0 L500.0 285.5 L508.0 284.5 L520.0 284.5 L540.0 283.5 L552.0 283.0 L560.0 282.5 L568.0 283.5 L575.0 284.0 L580.0 283.5 L595.0 284.5 L610.0 288.0 L625.0 290.5 L640.0 293.0 L655.0 293.5 L670.0 292.5 L685.0 290.5 L700.0 290.0 L715.0 290.5 L730.0 292.5 L750.0 294.0 L765.0 295.5 L780.0 296.0 L800.0 297.5 L820.0 299.5 L835.0 300.5 L850.0 300.0 L866.0 298.3 L876.0 296.5 L886.0 297.5 L900.0 298.0 L920.0 299.5 L940.0 300.5 L960.0 302.0 L980.0 303.5 L1000.0 304.5 L1020.0 305.5 L1040.0 306.5 L1046.0 306.5 L1060.0 305.5 L1080.0 305.0 L1088.0 305.5 L1092.0 304.0 L1100.0 304.5 L1106.0 306.0 L1112.0 304.5 L1126.0 304.0 L1132.0 302.0 L1140.0 301.0 L1150.0 300.0 L1170.0 299.5 L1178.0 298.5 L1186.0 296.0 L1190.0 295.5 L1196.0 297.0 L1204.0 295.0 L1216.0 294.0 L1224.0 294.0 L1230.0 296.0 L1238.0 296.5 L1246.0 299.0 L1254.0 302.0 L1262.0 303.5 L1272.0 305.0 L1290.0 305.5 L1292.0 306.0 L1320.0 306.0" stroke="#00ff40" stroke-width="2.4" fill="none" stroke-linejoin="round" />
<path d="M152.5 768V710H153.5V743H155.5V756H156.5V768M159.5 768V740H160.5V710H161.5V756H163.5V768M166.5 768V740H168.5V710H168.5V740H170.5V768M177.5 768V756H179.5V743H180.5V710H181.5V727H182.5V710H183.5V740H184.5V768M186.5 768V740H187.5V710H188.5V727H189.5V710H190.5V740H191.5V768M201.5 768V756H202.5V743H204.5V756H206.5V768M214.5 768V756H215.5V743H216.5V756H218.5V768M244.5 768V743H246.5V756H246.5V768M247.5 768V756H247.5V743H249.5V756H250.5V768M292.5 768V710H293.5V727H294.5V768M295.5 768V740H296.5V710H297.5V740H298.5V768M405.5 768V756H406.5V743H407.5V756H408.5V768M427.5 768V756H428.5V743H430.5V756H431.5V768M431.5 768V756H431.5V743H432.5V756H433.5V768M436.5 768V756H437.5V743H439.5V756H440.5V768M444.5 768V740H445.5V710H446.5V740H447.5V768M469.5 768V740H470.5V710H471.5V727H472.5V756H473.5V768M499.5 768V740H500.5V710H501.5V768M505.5 768V756H506.5V743H507.5V756H508.5V768M508.5 768V756H508.5V743H509.5V756H510.5V768M519.5 768V740H520.5V710H521.5V727H522.5V768M527.5 768V756H528.5V743H530.5V756H532.5V768M532.5 768V756H532.5V743H533.5V756H534.5V768M549.5 768V756H550.5V743H552.5V756H553.5V768M560.5 768V756H561.5V710H562.5V740H563.5V768M565.5 768V740H565.5V710H566.5V740H567.5V768M589.5 768V756H591.5V710H592.5V756H593.5V768M593.5 768V756H593.5V743H594.5V756H596.5V768M600.5 768V756H602.5V743H603.5V756H603.5V740H604.5V710H605.5V740H606.5V756H607.5V768" stroke="#8000ff" stroke-width="1" fill="none" shape-rendering="crispEdges"/>
<path d="M606.5 739V768M607.5 710V739M608.5 710V727M609.5 727V744M610.5 744V745M611.5 710V744M612.5 710V711M613.5 710V727M614.5 727V744M615.5 727V744M616.5 710V727M617.5 710V727M618.5 727V744M619.5 727V744M620.5 710V727M621.5 727V744M622.5 727V744M623.5 710V739M624.5 739V768M625.5 739V768M626.5 710V739M627.5 718V727M628.5 727V728M629.5 727V744M630.5 744V745M631.5 744V745M632.5 736V744M633.5 727V744M634.5 736V744M635.5 718V736M636.5 710V718M637.5 710V718M638.5 718V727M639.5 727V728M640.5 718V727M641.5 710V718M642.5 710V727M643.5 727V744M644.5 744V745M645.5 727V744M646.5 710V744M647.5 744V745M648.5 727V744M649.5 710V727M650.5 710V727M651.5 698V744M652.5 651V698M653.5 651V680M654.5 680V710M655.5 680V710M656.5 651V680M657.5 667V683M658.5 655V683M659.5 627V710M660.5 710V711M661.5 689V710M662.5 668V689M663.5 666V710M664.5 623V666M665.5 623V653M666.5 653V683M667.5 667V683M668.5 651V667M669.5 651V652M670.5 651V698M671.5 698V744M672.5 668V744M673.5 668V682M674.5 660V697M675.5 594V660M676.5 566V666M677.5 666V710M678.5 710V711M679.5 666V710M680.5 623V666M681.5 623V666M682.5 666V710M683.5 666V710M684.5 623V666M685.5 593V651M686.5 608V623M687.5 623V624M688.5 623V666M689.5 506V710M690.5 476V506M691.5 506V593M692.5 593V651M693.5 651V680M694.5 680V710M695.5 689V710M696.5 668V689M697.5 668V669M698.5 668V710M699.5 680V710M700.5 651V680M701.5 651V652M702.5 594V651M703.5 566V594M704.5 594V646M705.5 646V689M706.5 594V710M707.5 566V594M708.5 594V623M709.5 608V623M710.5 593V616M711.5 616V744M712.5 623V684M713.5 623V624M714.5 608V623M715.5 593V651M716.5 651V652M717.5 651V680M718.5 680V710M719.5 680V710M720.5 651V680M721.5 651V652M722.5 651V674M723.5 674V697M724.5 538V697M725.5 509V538M726.5 538V639M727.5 639V710M728.5 683V696M729.5 683V696M730.5 696V710M731.5 645V710M732.5 566V645M733.5 573V662M734.5 662V744M735.5 744V745M736.5 623V744M737.5 608V623M738.5 593V616M739.5 616V668M740.5 668V697M741.5 660V697M742.5 623V660M743.5 623V624M744.5 623V666M745.5 666V710M746.5 680V710M747.5 651V680M748.5 651V698M749.5 622V744M750.5 593V622M751.5 622V680M752.5 680V710M753.5 666V710M754.5 623V666M755.5 623V660M756.5 660V697M757.5 697V698M758.5 623V697M759.5 623V624M760.5 623V666M761.5 666V710M762.5 593V680M763.5 608V684M764.5 684V744M765.5 684V744M766.5 623V684M767.5 623V710M768.5 710V711M769.5 689V710M770.5 668V689M771.5 668V689M772.5 689V710M773.5 710V711M774.5 666V710M775.5 623V666M776.5 623V666M777.5 666V710M778.5 680V710M779.5 651V680M780.5 651V744M781.5 744V745M782.5 744V745M783.5 684V744M784.5 623V684M785.5 608V623M786.5 593V622M787.5 622V680M788.5 680V710M789.5 683V696M790.5 696V710M791.5 680V710M792.5 651V680M793.5 651V710M794.5 680V710M795.5 622V680M796.5 593V622M797.5 622V710M798.5 668V689M799.5 668V689M800.5 689V710M801.5 710V711M802.5 680V710M803.5 651V680M804.5 674V697M805.5 690V697M806.5 683V714M807.5 714V744M808.5 744V745M809.5 744V745M810.5 668V744M811.5 668V689M812.5 689V710M813.5 680V710M814.5 646V680M815.5 616V646M816.5 593V616M817.5 616V675M818.5 668V710M819.5 682V697M820.5 690V697M821.5 683V696M822.5 696V710M823.5 666V710M824.5 623V666M825.5 623V660M826.5 660V697M827.5 651V697M828.5 651V652M829.5 651V680M830.5 680V710M831.5 651V710M832.5 651V674M833.5 674V697M834.5 674V697M835.5 651V674M836.5 660V697M837.5 623V660M838.5 623V624M839.5 623V646M840.5 638V668M841.5 625V638M842.5 638V680M843.5 645V710M844.5 534V645M845.5 557V602M846.5 602V666M847.5 624V710M848.5 524V624M849.5 509V642M850.5 642V744M851.5 622V698M852.5 593V622M853.5 622V706M854.5 706V744M855.5 744V745M856.5 662V744M857.5 566V662M858.5 573V645M859.5 645V710M860.5 683V696M861.5 683V714M862.5 698V744M863.5 651V698M864.5 638V651M865.5 625V638M866.5 638V668M867.5 668V689M868.5 689V739M869.5 739V768M870.5 651V739M871.5 651V680M872.5 680V710M873.5 638V680M874.5 625V638M875.5 638V651M876.5 625V638M877.5 638V698M878.5 698V744M879.5 593V698M880.5 622V660M881.5 660V706M882.5 706V744M883.5 698V744M884.5 651V698M885.5 651V652M886.5 638V651M887.5 625V667M888.5 667V683M889.5 667V683M890.5 622V667M891.5 593V622M892.5 622V651M893.5 651V652M894.5 638V651M895.5 625V638M896.5 638V698M897.5 698V744M898.5 744V745M899.5 706V744M900.5 668V710M901.5 710V711M902.5 689V710M903.5 668V689M904.5 668V698M905.5 698V727M906.5 705V727M907.5 683V705M908.5 683V696M909.5 696V739M910.5 710V768M911.5 638V710M912.5 625V638M913.5 638V744M914.5 683V714M915.5 683V696M916.5 696V710M917.5 710V711M918.5 651V710M919.5 651V652M920.5 651V689M921.5 689V727M922.5 651V727M923.5 651V652M924.5 651V680M925.5 680V710M926.5 651V710M927.5 651V698M928.5 698V744M929.5 684V744M930.5 623V684M931.5 623V624M932.5 624V638M933.5 638V651M934.5 638V651M935.5 623V638M936.5 622V651M937.5 593V622M938.5 608V623M939.5 623V727M940.5 675V727M941.5 623V675M942.5 608V623M943.5 593V622M944.5 622V710M945.5 583V655M946.5 566V583M947.5 583V655M948.5 655V710M949.5 666V710M950.5 623V666M951.5 623V624M952.5 623V727M953.5 675V727M954.5 623V675M955.5 608V623M956.5 593V651M957.5 530V601M958.5 509V530M959.5 530V587M960.5 587V684M961.5 684V744M962.5 698V744M963.5 651V698M964.5 651V652M965.5 651V710M966.5 580V652M967.5 566V580M968.5 580V660M969.5 651V727M970.5 698V744M971.5 744V745M972.5 744V745M973.5 684V744M974.5 623V684M975.5 645V710M976.5 573V645M977.5 566V573M978.5 573V727M979.5 727V728M980.5 705V727M981.5 683V705M982.5 683V714M983.5 714V744M984.5 744V745M985.5 698V744M986.5 651V698M987.5 651V744M988.5 744V745M989.5 714V744M990.5 683V714M991.5 683V768M992.5 739V768M993.5 710V739M994.5 710V718M995.5 718V727M996.5 698V727M997.5 668V698M998.5 698V727M999.5 727V728M1000.5 683V727M1001.5 683V684M1002.5 683V714M1003.5 714V744M1004.5 744V745M1005.5 714V744M1006.5 683V714M1007.5 683V684M1008.5 683V768M1010.5 718V768M1011.5 668V718M1012.5 668V669M1013.5 668V744M1014.5 744V745M1015.5 714V744M1016.5 683V714M1017.5 683V726M1018.5 726V768M1021.5 697V768M1022.5 697V720M1023.5 720V744M1024.5 744V745M1025.5 744V745M1026.5 651V744M1027.5 651V652M1028.5 651V710M1029.5 710V768M1031.5 710V768M1032.5 651V710M1033.5 710V768M1036.5 710V768M1037.5 651V710M1038.5 710V768M1039.5 744V745M1040.5 698V744M1041.5 651V698M1042.5 651V710M1043.5 710V768M1045.5 732V768M1046.5 697V732M1047.5 697V720M1048.5 720V744M1049.5 744V745M1050.5 727V744M1051.5 710V727M1052.5 710V727M1053.5 698V744M1054.5 651V698M1055.5 651V652M1056.5 651V710M1057.5 710V711M1058.5 680V710M1059.5 622V680M1060.5 593V689M1061.5 689V727M1062.5 689V727M1063.5 651V689M1064.5 689V727M1065.5 651V698M1066.5 698V744M1067.5 698V744M1068.5 651V698M1069.5 651V710M1070.5 710V711M1071.5 680V710M1072.5 651V680M1073.5 651V710M1074.5 710V711M1075.5 710V711M1076.5 680V710M1077.5 651V744M1078.5 744V745M1079.5 684V744M1080.5 623V684M1081.5 623V624M1082.5 622V651M1083.5 593V622M1084.5 622V660M1085.5 660V668M1086.5 625V660M1087.5 638V689M1088.5 675V727M1089.5 623V675M1090.5 623V684M1091.5 684V744M1092.5 744V745M1093.5 744V745M1094.5 698V744M1095.5 651V698M1096.5 651V652M1097.5 638V651M1098.5 625V638M1099.5 638V744M1100.5 651V698M1101.5 651V652M1102.5 651V698M1103.5 698V744M1104.5 744V745M1105.5 698V744M1106.5 651V698M1107.5 651V710M1108.5 680V710M1109.5 651V680M1110.5 651V710M1111.5 710V768M1112.5 684V756M1113.5 623V684M1114.5 623V684M1115.5 684V744M1116.5 623V744M1117.5 602V623M1118.5 573V602M1119.5 566V573M1120.5 573V651M1121.5 625V638M1122.5 638V698M1123.5 698V744M1124.5 668V706M1125.5 668V744M1126.5 684V744M1127.5 623V684M1128.5 623V666M1129.5 666V710M1130.5 622V680M1131.5 593V622M1132.5 622V698M1133.5 698V744M1134.5 668V706M1135.5 706V744M1136.5 672V744M1137.5 583V672M1138.5 566V600M1139.5 583V600M1140.5 566V583M1141.5 583V600M1142.5 566V590M1143.5 573V616M1144.5 616V651M1145.5 651V680M1146.5 666V710M1147.5 623V666M1148.5 624V638M1149.5 637V651M1150.5 623V637M1151.5 623V666M1152.5 666V710M1153.5 689V710M1154.5 668V689M1155.5 668V689M1156.5 689V710M1157.5 710V711M1158.5 680V710M1159.5 651V680M1160.5 667V683M1161.5 683V684M1162.5 683V726M1163.5 726V768M1164.5 668V768M1165.5 668V698M1166.5 698V727M1167.5 727V728M1168.5 667V727M1169.5 651V674M1170.5 674V720M1171.5 720V744M1172.5 668V744M1173.5 668V669M1174.5 668V718M1175.5 718V768M1176.5 651V768M1177.5 651V698M1178.5 698V744M1179.5 744V745M1180.5 744V756M1181.5 651V768M1182.5 667V714M1183.5 714V744M1184.5 720V744M1185.5 651V720M1186.5 674V704M1187.5 704V710M1188.5 710V727M1189.5 727V744M1190.5 744V745M1191.5 714V744M1192.5 683V714M1193.5 683V684M1194.5 683V768M1197.5 718V768M1198.5 668V756M1199.5 756V768M1200.5 744V756M1201.5 718V768M1202.5 668V718M1203.5 718V768M1204.5 706V756M1205.5 668V706M1206.5 668V669M1207.5 668V744M1208.5 727V744M1209.5 696V727M1210.5 667V696M1211.5 651V667M1212.5 667V683M1213.5 683V696M1214.5 696V710M1215.5 710V733M1216.5 733V756M1217.5 756V757M1218.5 750V756M1219.5 743V750M1220.5 743V756M1221.5 756V768M1222.5 739V768M1223.5 710V739M1224.5 710V733M1225.5 733V756M1226.5 750V756M1227.5 743V756M1228.5 756V768M1229.5 739V768M1230.5 710V739M1231.5 710V711M1232.5 710V733M1233.5 733V756M1234.5 710V733M1235.5 710V711M1236.5 710V739M1237.5 739V768M1238.5 743V756M1239.5 743V750M1240.5 750V762M1241.5 762V768" stroke="#8000ff" stroke-width="1" fill="none" shape-rendering="crispEdges"/>
<path d="M152.0 768.0 L612.5 768.0 L613.5 743.7 L621.5 743.7 L622.5 765.0 L624.5 748.0 L625.0 743.7 L656.0 743.7 L657.0 738.0 L658.0 720.0 L658.5 711.0 L661.0 710.5 L662.0 705.0 L663.0 695.0 L664.0 684.0 L669.0 683.3 L670.0 700.0 L671.0 710.5 L691.0 710.5 L692.0 700.0 L693.0 683.3 L697.5 683.3 L699.0 695.0 L700.0 710.5 L704.0 710.5 L705.0 683.3 L705.5 710.5 L706.0 683.3 L706.5 710.5 L707.0 710.5 L708.5 695.0 L709.0 683.3 L717.0 683.3 L718.0 700.0 L719.0 710.5 L721.5 710.5 L723.0 730.0 L724.0 743.7 L725.5 743.7 L726.5 725.0 L727.5 710.5 L729.5 710.5 L730.5 695.0 L731.0 700.0 L733.0 683.3 L743.0 683.3 L744.0 695.0 L745.5 710.5 L758.0 710.5 L759.0 725.0 L760.0 740.0 L760.5 710.5 L773.0 710.5 L774.0 725.0 L775.0 743.7 L777.0 743.7 L778.0 728.0 L780.0 712.0 L781.0 710.5 L789.0 710.5 L790.0 700.0 L791.0 683.3 L794.0 683.3 L795.0 700.0 L796.0 710.5 L830.0 710.5 L831.0 725.0 L833.0 743.7 L836.0 743.7 L837.0 730.0 L838.5 712.0 L840.0 710.5 L844.0 710.5 L845.0 695.0 L846.0 683.3 L847.5 710.0 L848.5 683.3 L863.5 683.3 L864.5 695.0 L866.0 710.5 L867.5 710.5 L868.5 730.0 L869.0 743.7 L876.0 743.7 L877.0 740.0 L878.5 720.0 L879.5 735.0 L880.5 715.0 L881.0 710.5 L882.0 725.0 L883.0 743.7 L889.5 743.7 L890.5 725.0 L891.0 710.5 L898.5 710.5 L899.5 725.0 L901.0 735.0 L901.5 743.7 L921.0 743.7 L922.0 730.0 L923.5 715.0 L924.0 710.5 L927.5 710.5 L928.5 725.0 L930.0 743.7 L932.0 743.7 L933.0 725.0 L934.0 710.5 L937.5 710.5 L938.5 695.0 L940.0 683.3 L949.5 683.3 L950.5 695.0 L952.0 710.5 L954.5 710.5 L955.5 735.0 L956.0 715.0 L957.0 710.5 L959.0 705.0 L960.0 683.3 L961.5 683.3 L962.5 700.0 L963.0 683.3 L966.0 683.3 L967.5 710.0 L968.0 683.3 L972.0 683.3 L973.0 700.0 L974.0 710.5 L989.0 710.5 L990.0 730.0 L991.0 743.7 L1032.0 743.7 L1033.0 755.0 L1034.0 768.0 L1039.5 768.0 L1040.0 757.0 L1041.0 743.7 L1060.0 743.7 L1061.5 730.0 L1063.0 712.0 L1064.0 710.5 L1065.0 715.0 L1066.0 735.0 L1067.0 743.7 L1071.0 743.7 L1072.0 730.0 L1073.5 715.0 L1074.0 720.0 L1075.0 735.0 L1076.0 712.0 L1077.5 710.5 L1079.0 720.0 L1080.0 743.7 L1086.0 743.7 L1087.5 725.0 L1088.5 710.5 L1092.5 710.5 L1094.0 730.0 L1095.5 743.7 L1100.0 743.7 L1101.0 730.0 L1102.5 710.5 L1103.0 715.0 L1105.0 735.0 L1106.5 743.7 L1108.5 745.0 L1109.5 760.0 L1110.5 768.0 L1112.0 768.0 L1113.0 755.0 L1114.5 743.7 L1117.5 743.7 L1118.5 730.0 L1120.0 710.5 L1125.5 710.5 L1127.0 725.0 L1128.0 743.7 L1131.5 743.7 L1132.5 725.0 L1133.5 710.5 L1135.0 715.0 L1136.0 740.0 L1137.0 725.0 L1138.0 710.5 L1141.0 710.5 L1141.5 695.0 L1142.5 683.3 L1150.0 683.3 L1151.0 695.0 L1152.0 710.5 L1154.0 710.5 L1155.0 695.0 L1156.0 683.3 L1159.5 683.3 L1161.0 700.0 L1162.0 710.5 L1164.0 712.0 L1165.5 730.0 L1166.5 743.7 L1172.0 743.7 L1172.5 725.0 L1173.0 710.5 L1175.0 710.5 L1176.5 730.0 L1177.0 743.7 L1178.0 750.0 L1180.0 768.0 L1181.0 768.0 L1181.5 750.0 L1182.5 743.7 L1185.0 743.7 L1186.0 730.0 L1187.5 710.5 L1189.5 710.5 L1190.0 725.0 L1191.0 743.7 L1192.5 743.7 L1194.0 760.0 L1194.5 768.0 L1205.0 768.0 L1206.0 755.0 L1207.0 743.7 L1211.5 743.7 L1212.0 730.0 L1213.0 710.5 L1220.0 710.5 L1221.0 725.0 L1222.0 743.7 L1227.0 743.7 L1228.0 755.0 L1229.5 768.0 L1320.0 768.0" stroke="#000" stroke-width="1.2" fill="none" stroke-linejoin="round" />
<path d="M152.0 514.0 L168.0 513.5 L173.0 512.0 L200.0 512.0 L208.0 513.5 L215.0 515.5 L222.0 517.0 L230.0 518.5 L238.0 521.0 L244.0 523.0 L249.0 525.5 L256.0 526.0 L262.0 529.0 L268.0 532.0 L273.0 533.5 L278.0 533.0 L283.0 535.0 L290.0 537.0 L296.0 539.5 L302.0 541.5 L307.0 543.5 L310.0 544.0 L314.0 542.5 L318.0 543.0 L323.0 545.0 L328.0 547.0 L334.0 548.5 L339.0 550.0 L343.0 551.0 L346.0 551.0 L349.0 548.5 L353.0 546.5 L358.0 545.0 L368.0 545.0 L372.0 544.0 L378.0 545.0 L383.0 546.0 L387.0 546.5 L393.0 546.0 L396.0 544.0 L399.0 543.0 L403.0 543.5 L407.0 543.0 L412.0 541.0 L417.0 540.0 L421.0 540.5 L426.0 538.5 L430.0 538.0 L436.0 539.0 L440.0 540.0 L456.0 540.0 L462.0 541.0 L468.0 543.0 L475.0 543.5 L482.0 546.0 L490.0 547.5 L500.0 547.5 L505.0 546.0 L508.0 545.0 L510.0 547.0 L516.0 547.0 L520.0 545.5 L526.0 545.0 L530.0 543.5 L535.0 540.5 L541.0 536.0 L547.0 532.0 L552.0 527.0 L553.0 524.5 L558.0 520.0 L562.0 515.0 L566.0 511.0 L570.0 508.0 L575.0 505.0 L580.0 501.0 L585.0 498.0 L589.0 493.0 L592.0 489.0 L597.0 485.5 L604.0 485.0 L607.0 481.0 L610.0 477.0 L613.0 472.0 L618.0 466.0 L623.0 467.0 L628.0 468.0 L633.0 465.5 L640.0 463.0 L645.0 464.0 L650.0 462.0 L655.0 463.0 L660.0 461.0 L664.0 459.5 L668.0 462.0 L671.0 464.0 L674.0 463.0 L678.0 466.0 L681.0 469.0 L685.0 471.5 L688.0 469.0 L690.0 467.0 L693.0 469.0 L697.0 471.0 L701.0 474.0 L704.0 476.0 L707.0 480.0 L710.0 484.0 L712.0 483.0 L715.0 478.0 L718.0 474.0 L722.0 472.0 L725.0 476.0 L727.0 483.0 L729.0 490.0 L731.0 494.0 L733.0 490.0 L736.0 482.0 L739.0 477.0 L741.0 480.0 L744.0 485.0 L748.0 487.0 L751.0 489.0 L754.0 486.0 L757.0 481.0 L760.0 479.0 L763.0 474.0 L764.5 472.0 L766.0 478.0 L769.0 484.0 L772.0 482.0 L775.0 477.0 L778.0 480.0 L781.0 486.0 L784.0 489.5 L787.0 488.0 L791.0 487.0 L795.0 485.0 L798.0 480.0 L801.0 477.0 L803.0 481.0 L806.0 487.0 L809.0 491.0 L812.0 493.0 L815.0 490.0 L818.0 488.0 L821.0 490.0 L825.0 491.0 L828.0 494.0 L832.0 498.0 L836.0 497.0 L840.0 500.0 L843.0 495.0 L846.0 488.0 L849.0 482.0 L852.0 478.0 L856.0 476.0 L860.0 478.0 L863.0 477.0 L866.0 476.0 L870.0 475.5 L873.0 477.0 L876.0 473.0 L879.0 474.0 L882.0 476.0 L885.0 474.0 L888.0 476.0 L891.0 479.0 L894.0 481.0 L897.0 479.0 L901.0 478.0 L905.0 478.0 L908.0 476.0 L911.0 474.0 L914.0 472.5 L917.0 473.0 L920.0 472.5 L923.0 475.0 L926.0 477.0 L929.0 479.0 L932.0 480.5 L935.0 478.5 L938.0 476.0 L941.0 475.5 L943.0 479.0 L946.0 478.0 L949.0 474.0 L951.0 476.0 L954.0 474.0 L957.0 473.5 L960.0 477.0 L963.0 478.0 L967.0 478.5 L971.0 480.0 L975.0 480.5 L979.0 479.5 L984.0 480.0 L988.0 479.5 L991.0 481.0 L994.0 482.5 L997.0 480.5 L1002.0 479.0 L1007.0 479.5 L1011.0 478.0 L1015.0 477.0 L1020.0 476.0 L1025.0 475.0 L1030.0 474.0 L1035.0 473.0 L1040.0 473.0 L1045.0 472.0 L1050.0 471.5 L1055.0 471.5 L1060.0 470.5 L1065.0 469.0 L1070.0 467.5 L1075.0 466.0 L1080.0 465.5 L1084.0 466.0 L1087.0 468.0 L1092.0 468.5 L1097.0 469.0 L1101.0 469.5 L1105.0 471.0 L1110.0 471.0 L1114.0 470.0 L1118.0 468.0 L1123.0 467.0 L1128.0 466.0 L1133.0 465.0 L1138.0 464.5 L1143.0 464.0 L1147.0 465.0 L1152.0 464.5 L1157.0 465.0 L1162.0 464.0 L1167.0 464.5 L1172.0 466.0 L1176.0 466.5 L1180.0 465.5 L1188.0 467.0 L1193.0 469.0 L1198.0 467.5 L1205.0 468.5 L1210.0 467.0 L1214.0 465.5 L1218.0 464.0 L1222.0 465.0 L1226.0 466.0 L1230.0 464.5 L1235.0 464.0 L1240.0 465.5 L1245.0 466.0 L1250.0 465.0 L1255.0 465.5 L1260.0 465.0 L1265.0 466.5 L1270.0 467.0 L1275.0 466.0 L1285.0 466.0 L1290.0 467.0 L1297.0 467.5 L1302.0 469.0 L1308.0 470.0 L1313.0 472.0 L1320.0 473.0" stroke="#007a4a" stroke-width="2" fill="none" stroke-linejoin="round" />
<path d="M152.0 483.5 L155.0 483.0 L157.0 479.0 L162.0 476.5 L167.0 475.5 L172.0 475.0 L185.0 475.0 L187.0 479.0 L189.0 480.5 L192.0 478.0 L195.0 480.0 L200.0 483.0 L202.0 488.0 L205.0 491.0 L209.0 492.0 L211.0 496.0 L214.0 499.0 L218.0 500.5 L226.0 500.5 L228.0 505.0 L232.0 508.5 L236.0 509.5 L239.0 514.0 L243.0 517.0 L247.0 518.0 L258.0 518.0 L260.0 522.0 L263.0 526.0 L267.0 527.5 L292.0 527.5 L294.0 532.0 L298.0 535.5 L302.0 536.5 L308.0 537.5 L313.0 538.0 L315.0 542.0 L319.0 544.5 L325.0 545.0 L328.0 546.0 L340.0 546.0 L342.0 543.0 L345.0 540.0 L347.0 538.0 L348.0 534.0 L351.0 531.5 L353.0 534.0 L356.0 536.5 L363.0 536.5 L365.0 532.0 L368.0 529.5 L371.0 532.0 L375.0 533.5 L379.0 536.0 L382.0 537.0 L387.0 537.0 L389.0 533.0 L392.0 530.0 L395.0 529.0 L398.0 528.0 L400.0 523.0 L403.0 521.0 L407.0 519.5 L413.0 519.0 L415.0 522.0 L417.0 525.0 L420.0 526.5 L425.0 528.0 L428.0 531.5 L430.0 532.0 L433.0 530.0 L437.0 528.5 L441.0 528.0 L449.0 528.0 L451.0 532.0 L454.0 535.0 L458.0 536.5 L463.0 537.0 L465.0 541.0 L468.0 543.5 L470.0 545.0 L473.0 542.0 L477.0 540.0 L480.0 543.0 L484.0 545.0 L490.0 546.0 L499.0 546.0 L500.0 543.0 L503.0 540.0 L506.0 538.0 L515.0 538.0 L517.0 534.0 L521.0 529.0 L524.0 524.0 L527.0 520.0 L529.0 518.0 L531.0 515.0 L534.0 512.0 L537.0 506.0 L539.0 503.0 L542.0 502.0 L544.0 498.0 L547.0 495.0 L549.0 487.0 L551.0 480.0 L552.0 474.0 L555.0 467.0 L557.0 463.0 L559.0 457.0 L561.0 452.0 L565.0 445.0 L568.0 439.0 L574.0 431.0 L580.0 427.0 L586.0 418.0 L589.0 408.0 L594.0 403.0 L598.0 394.0 L601.0 385.0 L605.0 377.0 L610.0 367.0 L613.0 363.0 L617.0 365.0 L621.0 372.0 L626.0 376.0 L630.0 374.0 L633.0 375.0 L637.0 370.0 L640.0 364.0 L644.0 360.0 L647.0 358.0 L650.0 351.0 L654.0 348.0 L657.0 337.0 L659.0 320.0 L660.0 300.0 L661.5 285.0 L663.0 270.0 L665.0 250.0 L667.0 241.0 L669.0 240.0 L671.0 232.0 L674.0 221.0 L676.0 225.0 L677.0 240.0 L679.0 258.0 L681.0 266.0 L684.0 273.0 L687.0 282.0 L688.0 274.0 L690.0 270.0 L692.0 281.0 L694.0 296.0 L696.0 293.0 L698.0 280.0 L700.0 262.0 L703.0 235.0 L706.0 210.0 L709.0 192.0 L712.0 182.0 L716.0 176.0 L718.0 160.0 L721.0 142.0 L723.0 137.0 L725.0 139.0 L727.0 160.0 L729.0 195.0 L731.0 230.0 L732.0 248.0 L733.0 255.0 L735.0 251.0 L738.0 240.0 L741.0 234.0 L743.0 240.0 L745.0 248.0 L747.0 248.0 L749.0 244.0 L752.0 238.0 L754.0 232.0 L756.0 236.0 L759.0 230.0 L761.0 208.0 L763.0 185.0 L764.0 174.0 L766.0 180.0 L769.0 190.0 L771.0 178.0 L773.0 155.0 L775.0 140.0 L777.0 142.0 L779.0 160.0 L781.0 185.0 L784.0 225.0 L787.0 255.0 L790.0 277.0 L791.0 280.0 L793.0 270.0 L796.0 240.0 L798.0 205.0 L800.0 180.0 L802.0 158.0 L803.0 153.0 L805.0 160.0 L807.0 180.0 L809.0 205.0 L811.0 230.0 L812.0 240.0 L814.0 236.0 L816.0 225.0 L818.0 213.0 L820.0 207.0 L822.0 215.0 L824.0 210.0 L826.0 222.0 L829.0 242.0 L831.0 237.0 L833.0 232.0 L835.0 240.0 L838.0 258.0 L841.0 275.0 L845.0 290.0 L847.0 296.0 L849.0 300.0 L850.0 290.0 L851.0 270.0 L853.0 240.0 L855.0 215.0 L857.0 206.0 L859.0 212.0 L861.0 230.0 L863.0 250.0 L866.0 264.0 L869.0 280.0 L873.0 288.0 L877.0 290.0 L880.0 296.0 L883.0 305.0 L887.0 313.0 L891.0 320.0 L895.0 322.5 L907.0 323.0 L910.0 319.0 L914.0 312.0 L917.0 308.0 L921.0 306.0 L926.0 305.0 L929.0 300.0 L931.0 299.5 L933.0 303.0 L937.0 303.5 L940.0 302.0 L943.0 299.5 L946.0 302.0 L948.0 303.5 L951.0 300.0 L954.0 298.0 L956.0 298.0 L958.0 301.0 L961.0 304.0 L964.0 308.0 L968.0 313.0 L972.0 317.0 L976.0 322.0 L979.0 326.0 L981.0 331.0 L985.0 333.0 L988.0 337.0 L991.0 339.0 L995.0 340.5 L1028.0 341.0 L1030.0 346.0 L1033.0 349.0 L1037.0 350.5 L1041.0 348.0 L1044.0 344.0 L1047.0 342.0 L1051.0 341.0 L1060.0 341.0 L1062.0 345.0 L1064.0 350.0 L1067.0 354.0 L1070.0 357.0 L1074.0 358.0 L1085.0 358.5 L1088.0 363.0 L1092.0 367.0 L1095.0 372.0 L1098.0 375.0 L1101.0 376.5 L1107.0 377.0 L1109.0 381.0 L1113.0 384.0 L1117.0 385.0 L1124.0 385.5 L1126.0 390.0 L1129.0 393.0 L1133.0 394.5 L1142.0 395.0 L1144.0 399.0 L1147.0 402.0 L1151.0 403.0 L1163.0 403.0 L1165.0 407.0 L1168.0 410.5 L1172.0 412.5 L1177.0 413.0 L1203.0 413.0 L1205.0 417.0 L1207.0 423.0 L1210.0 427.0 L1212.0 432.0 L1215.0 436.0 L1218.0 438.0 L1249.0 438.0 L1251.0 442.0 L1254.0 446.0 L1258.0 447.5 L1280.0 447.5 L1282.0 451.0 L1283.5 453.5 L1286.0 450.0 L1290.0 448.5 L1293.0 447.5 L1295.0 451.0 L1298.0 456.0 L1302.0 457.0 L1306.0 457.0 L1308.0 460.0 L1309.0 462.0 L1312.0 459.0 L1315.0 458.0 L1320.0 458.0" stroke="#ff0000" stroke-width="2" fill="none" stroke-linejoin="round" />
<path d="M150.0 467.2 L163.0 466.7 L173.0 466.2 L185.0 465.7 L198.0 466.2 L210.0 467.7 L220.0 470.2 L230.0 474.2 L240.0 477.7 L250.0 482.2 L260.0 487.2 L270.0 491.7 L280.0 496.2 L290.0 499.7 L300.0 503.2 L310.0 507.2 L320.0 510.2 L330.0 513.7 L338.0 516.2 L345.0 516.7 L353.0 516.2 L360.0 515.2 L370.0 515.2 L378.0 516.7 L390.0 517.2 L400.0 515.7 L410.0 514.2 L418.0 512.2 L428.0 511.2 L438.0 510.2 L453.0 510.2 L460.0 512.2 L468.0 514.2 L478.0 516.2 L488.0 517.7 L496.0 518.7 L502.0 518.2 L508.0 518.7 L519.0 518.7 L525.0 517.7 L531.0 515.7 L539.0 512.2 L546.0 507.7 L552.0 502.2 L558.0 495.2 L564.0 486.2 L570.0 478.2 L576.0 471.2 L582.0 463.2 L588.0 455.2 L593.0 447.2 L601.0 432.2 L608.0 418.2 L614.0 407.2 L619.0 400.2 L628.0 389.2 L636.0 380.2 L643.0 371.2 L651.0 360.2 L658.0 350.2 L666.0 339.2 L673.0 331.2 L678.0 328.2 L683.0 327.7 L690.0 330.2 L698.0 331.2 L703.0 327.2 L710.0 321.2 L716.0 316.2 L721.0 309.2 L725.0 307.2 L729.0 310.2 L733.0 313.2 L739.0 311.2 L743.0 315.2 L748.0 322.2 L751.0 322.2 L756.0 317.2 L762.0 310.2 L766.0 309.2 L772.0 305.2 L778.0 303.2 L784.0 307.2 L789.0 308.2 L794.0 305.2 L799.0 299.2 L804.0 295.2 L808.0 295.7 L813.0 298.2 L819.0 295.7 L824.0 294.7 L830.0 297.2 L836.0 299.2 L842.0 303.2 L848.0 308.2 L852.0 309.2 L856.0 305.2 L861.0 301.2 L864.0 299.7 L869.0 303.2 L874.0 307.2 L878.0 311.2 L883.0 317.2 L888.0 322.2 L894.0 325.2 L900.0 327.7 L908.0 329.2 L915.0 329.2 L920.0 326.7 L925.0 324.7 L930.0 324.2 L935.0 325.2 L940.0 323.7 L946.0 319.7 L951.0 316.7 L956.0 314.7 L960.0 315.7 L965.0 318.2 L972.0 321.7 L978.0 325.2 L984.0 328.2 L991.0 331.2 L998.0 333.7 L1006.0 336.2 L1013.0 338.2 L1020.0 339.7 L1028.0 342.2 L1038.0 344.2 L1046.0 345.2 L1052.0 343.7 L1058.0 341.7 L1064.0 342.7 L1069.0 345.2 L1076.0 348.7 L1083.0 352.2 L1090.0 355.2 L1098.0 359.2 L1106.0 362.7 L1114.0 365.2 L1119.0 368.2 L1126.0 372.7 L1133.0 377.7 L1140.0 382.2 L1146.0 385.7 L1153.0 388.2 L1161.0 390.7 L1168.0 393.2 L1175.0 395.2 L1183.0 397.2 L1188.0 399.2 L1193.0 400.7 L1201.0 402.2 L1206.0 403.2 L1211.0 404.7 L1215.0 408.2 L1219.0 412.2 L1223.0 416.2 L1228.0 419.2 L1233.0 422.2 L1238.0 425.2 L1243.0 427.2 L1249.0 429.2 L1255.0 431.2 L1260.0 433.2 L1267.0 434.2 L1274.0 435.2 L1282.0 436.2 L1290.0 437.2 L1298.0 438.2 L1304.0 439.2 L1308.0 441.2 L1314.0 442.2 L1318.0 443.2" stroke="#ff8000" stroke-width="2" fill="none" stroke-linejoin="round" />
<path d="M152.0 467.0 L165.0 466.5 L175.0 466.0 L187.0 465.5 L200.0 466.0 L212.0 467.5 L222.0 470.0 L232.0 474.0 L242.0 477.5 L252.0 482.0 L262.0 487.0 L272.0 491.5 L282.0 496.0 L292.0 499.5 L302.0 503.0 L312.0 507.0 L322.0 510.0 L332.0 513.5 L340.0 516.0 L347.0 516.5 L355.0 516.0 L362.0 515.0 L372.0 515.0 L380.0 516.5 L392.0 517.0 L402.0 515.5 L412.0 514.0 L420.0 512.0 L430.0 511.0 L440.0 510.0 L455.0 510.0 L462.0 512.0 L470.0 514.0 L480.0 516.0 L490.0 517.5 L498.0 518.5 L504.0 518.0 L510.0 518.5 L521.0 518.5 L527.0 517.5 L533.0 515.5 L541.0 512.0 L548.0 507.5 L554.0 502.0 L560.0 495.0 L566.0 486.0 L572.0 478.0 L578.0 471.0 L584.0 463.0 L590.0 455.0 L595.0 447.0 L603.0 432.0 L610.0 418.0 L616.0 407.0 L621.0 400.0 L630.0 389.0 L638.0 380.0 L645.0 371.0 L653.0 360.0 L660.0 350.0 L668.0 339.0 L675.0 331.0 L680.0 328.0 L685.0 327.5 L692.0 330.0 L700.0 331.0 L705.0 327.0 L712.0 321.0 L718.0 316.0 L723.0 309.0 L727.0 307.0 L731.0 310.0 L735.0 313.0 L741.0 311.0 L745.0 315.0 L750.0 322.0 L753.0 322.0 L758.0 317.0 L764.0 310.0 L768.0 309.0 L774.0 305.0 L780.0 303.0 L786.0 307.0 L791.0 308.0 L796.0 305.0 L801.0 299.0 L806.0 295.0 L810.0 295.5 L815.0 298.0 L821.0 295.5 L826.0 294.5 L832.0 297.0 L838.0 299.0 L844.0 303.0 L850.0 308.0 L854.0 309.0 L858.0 305.0 L863.0 301.0 L866.0 299.5 L871.0 303.0 L876.0 307.0 L880.0 311.0 L885.0 317.0 L890.0 322.0 L896.0 325.0 L902.0 327.5 L910.0 329.0 L917.0 329.0 L922.0 326.5 L927.0 324.5 L932.0 324.0 L937.0 325.0 L942.0 323.5 L948.0 319.5 L953.0 316.5 L958.0 314.5 L962.0 315.5 L967.0 318.0 L974.0 321.5 L980.0 325.0 L986.0 328.0 L993.0 331.0 L1000.0 333.5 L1008.0 336.0 L1015.0 338.0 L1022.0 339.5 L1030.0 342.0 L1040.0 344.0 L1048.0 345.0 L1054.0 343.5 L1060.0 341.5 L1066.0 342.5 L1071.0 345.0 L1078.0 348.5 L1085.0 352.0 L1092.0 355.0 L1100.0 359.0 L1108.0 362.5 L1116.0 365.0 L1121.0 368.0 L1128.0 372.5 L1135.0 377.5 L1142.0 382.0 L1148.0 385.5 L1155.0 388.0 L1163.0 390.5 L1170.0 393.0 L1177.0 395.0 L1185.0 397.0 L1190.0 399.0 L1195.0 400.5 L1203.0 402.0 L1208.0 403.0 L1213.0 404.5 L1217.0 408.0 L1221.0 412.0 L1225.0 416.0 L1230.0 419.0 L1235.0 422.0 L1240.0 425.0 L1245.0 427.0 L1251.0 429.0 L1257.0 431.0 L1262.0 433.0 L1269.0 434.0 L1276.0 435.0 L1284.0 436.0 L1292.0 437.0 L1300.0 438.0 L1306.0 439.0 L1310.0 441.0 L1316.0 442.0 L1320.0 443.0" stroke="#0000ff" stroke-width="2.4" fill="none" stroke-linejoin="round" />
<rect x="152" y="606.5" width="1169" height="2.5" fill="#000" shape-rendering="crispEdges"/>
<path d="M152.0 767.6 L1213.0 767.6 L1223.3 745.0 L1237.5 724.7 L1247.6 703.8 L1251.0 701.3 L1255.0 700.0 L1320.0 700.0" stroke="#00d8f0" stroke-width="1.8" fill="none" stroke-linejoin="round" />
<path d="M1210 767 L1210.0 763.5 L1211.5 764.5 L1213.5 763.5 L1214.5 765.0 L1215.5 763.0 L1216.5 763.0 L1218.0 765.0 L1219.0 765.0 L1221.0 763.0 L1223.0 764.0 L1224.0 764.0 L1225.5 764.5 L1226.5 765.0 L1227.5 763.0 L1228.5 763.5 L1230.5 765.0 L1231.5 764.0 L1232.5 763.0 L1233.5 764.0 L1234.5 764.0 L1236.0 764.5 L1237.0 763.5 L1239.0 764.0 L1240.0 764.0 L1241.5 764.5 L1242.5 764.5 L1244.0 764.0 L1245.0 764.5 L1246.0 764.5 L1247.5 763.5 L1250 767Z" fill="#00d8f0" stroke="none"/>
</g>
<rect x="152" y="766.7" width="1168" height="1.75" fill="#00d8f0"/>
<rect x="152" y="768.45" width="1168" height="0.5" fill="#808080"/>
<path d="M200.5 607V609M249.5 607V609M297.5 607V609M346.5 607V609M395.5 607V609M443.5 607V609M492.5 607V609M541.5 607V609M590.5 607V609M639.5 607V609M687.5 607V609M736.5 607V609M785.5 607V609M833.5 607V609M882.5 607V609M931.5 607V609M980.5 607V609M1029.5 607V609M1077.5 607V609M1126.5 607V609M1175.5 607V609M1224.5 607V609M1272.5 607V609" stroke="#fff" stroke-width="1" shape-rendering="crispEdges"/>
<path d="M151 769V48H1322" stroke="#787878" stroke-width="2" fill="none" shape-rendering="crispEdges"/>
<path d="M1321 48V769" stroke="#787878" stroke-width="2" fill="none" shape-rendering="crispEdges"/>
<rect x="463" y="764" width="3" height="13" fill="#ffee00" shape-rendering="crispEdges"/>
<rect x="1147" y="764" width="2" height="13" fill="#ffee00" shape-rendering="crispEdges"/>
<rect x="1236" y="769" width="2" height="8" fill="#808080" shape-rendering="crispEdges"/>
<path d="M40 797 V794.5 Q40 791 44.5 791 Q49 791 49 794.5 V797 Z" fill="#ffee00"/>
<rect x="460.5" y="788.5" width="5" height="5" fill="none" stroke="#8890e0" stroke-width="1" stroke-dasharray="1 1"/>
<path d="M461 794.5h5M461 797.5h4" stroke="#ffee00" stroke-width="1.4"/>
<path d="M467.5 789.5 L471 794.5 H468.8 V798.5 H466.2 V794.5 H464.2 Z" fill="#ffe000"/>
<path d="M467.3 789 L464.2 795" stroke="#000" stroke-width="1.2"/>
<path d="M468 790 L470.5 794" stroke="#7080e0" stroke-width="0.8"/>
<rect x="1145.5" y="791.5" width="5" height="5" fill="none" stroke="#ffee00" stroke-width="1"/>
<path d="M1234.5 788.5 H1237.5 V791.5 H1239.5 L1236 796.5 L1232.5 791.5 H1234.5 Z" fill="#ffe000"/>
<path d="M1232.5 790 L1235.5 795.5" stroke="#404080" stroke-width="0.8"/>
<path d="M1237 796.5h5" stroke="#8890e0" stroke-width="1" stroke-dasharray="1 1"/>
<rect x="0" y="800" width="1432" height="131" fill="#ffffff"/>
<rect x="1" y="800" width="1430" height="90" fill="#ff8200"/>
<rect x="1431" y="800" width="1" height="131" fill="#a0a0a0"/>
<rect x="0" y="890" width="1432" height="1" fill="#a0a0a0"/>
<rect x="1" y="893" width="1429" height="36" fill="#2ce81c"/>
<rect x="0" y="930" width="1432" height="1" fill="#a0a0a0"/>
<rect x="87" y="800" width="1" height="89" fill="#ffffff"/><rect x="88" y="800" width="1" height="89" fill="#a0a0a0"/>
<rect x="204" y="800" width="1" height="89" fill="#ffffff"/><rect x="205" y="800" width="1" height="89" fill="#a0a0a0"/>
<rect x="322" y="800" width="1" height="89" fill="#ffffff"/><rect x="323" y="800" width="1" height="89" fill="#a0a0a0"/>
<rect x="440" y="800" width="1" height="89" fill="#ffffff"/><rect x="441" y="800" width="1" height="89" fill="#a0a0a0"/>
<rect x="558" y="800" width="1" height="89" fill="#ffffff"/><rect x="559" y="800" width="1" height="89" fill="#a0a0a0"/>
<rect x="676" y="800" width="1" height="89" fill="#ffffff"/><rect x="677" y="800" width="1" height="89" fill="#a0a0a0"/>
<rect x="794" y="800" width="1" height="89" fill="#ffffff"/><rect x="795" y="800" width="1" height="89" fill="#a0a0a0"/>
<rect x="912" y="800" width="1" height="89" fill="#ffffff"/><rect x="913" y="800" width="1" height="89" fill="#a0a0a0"/>
<rect x="87" y="891" width="1" height="39" fill="#ffffff"/><rect x="88" y="891" width="1" height="39" fill="#c8c0c8"/>
<rect x="204" y="891" width="1" height="39" fill="#ffffff"/><rect x="205" y="891" width="1" height="39" fill="#c8c0c8"/>
<rect x="322" y="891" width="1" height="39" fill="#ffffff"/><rect x="323" y="891" width="1" height="39" fill="#c8c0c8"/>
<rect x="440" y="891" width="1" height="39" fill="#ffffff"/><rect x="441" y="891" width="1" height="39" fill="#c8c0c8"/>
<rect x="558" y="891" width="1" height="39" fill="#ffffff"/><rect x="559" y="891" width="1" height="39" fill="#c8c0c8"/>
<defs><linearGradient id="sky" x1="0" y1="0" x2="1" y2="1"><stop offset="0" stop-color="#3f90c8"/><stop offset="0.6" stop-color="#5aa4d8"/><stop offset="1" stop-color="#8cc4ee"/></linearGradient><radialGradient id="glow"><stop offset="0" stop-color="#d8e850" stop-opacity="0.9"/><stop offset="0.6" stop-color="#a8d078" stop-opacity="0.55"/><stop offset="1" stop-color="#5aa4d8" stop-opacity="0"/></radialGradient></defs>
<rect x="562" y="894" width="34" height="34" fill="url(#sky)"/>
<path d="M562.5 928V894.5H596" stroke="#0a0a30" stroke-width="1" fill="none"/>
<circle cx="579.5" cy="911.5" r="12" fill="url(#glow)"/>
<polygon points="579.5,898.5 581.6,906.3 587.6,903.4 584.7,909.4 592.5,911.5 584.7,913.6 587.6,919.6 581.6,916.7 579.5,924.5 577.4,916.7 571.4,919.6 574.3,913.6 566.5,911.5 574.3,909.4 571.4,903.4 577.4,906.3" fill="#d8e848" opacity="0.7"/>
<circle cx="579.5" cy="911.5" r="6.6" fill="#f0f020"/>
</svg>
<span class="t" style="top:43.2px;color:#0000ff;font-size:11px;right:1397.5px;">35.0</span>
<span class="t" style="top:123.2px;color:#0000ff;font-size:11px;right:1397.5px;">30.0</span>
<span class="t" style="top:203.2px;color:#0000ff;font-size:11px;right:1397.5px;">25.0</span>
<span class="t" style="top:283.2px;color:#0000ff;font-size:11px;right:1397.5px;">20.0</span>
<span class="t" style="top:363.2px;color:#0000ff;font-size:11px;right:1397.5px;">15.0</span>
<span class="t" style="top:443.2px;color:#0000ff;font-size:11px;right:1397.5px;">10.0</span>
<span class="t" style="top:523.2px;color:#0000ff;font-size:11px;right:1397.5px;">5.0</span>
<span class="t" style="top:603.2px;color:#0000ff;font-size:11px;right:1397.5px;">0.0</span>
<span class="t" style="top:683.2px;color:#0000ff;font-size:11px;right:1397.5px;">-5.0</span>
<span class="t" style="top:763.2px;color:#0000ff;font-size:11px;right:1397.5px;">-10.0</span>
<span class="t" style="top:43.2px;color:#00e840;font-size:11px;right:1360.5px;">1040</span>
<span class="t" style="top:103.2px;color:#00e840;font-size:11px;right:1360.5px;">1035</span>
<span class="t" style="top:163.2px;color:#00e840;font-size:11px;right:1360.5px;">1030</span>
<span class="t" style="top:223.2px;color:#00e840;font-size:11px;right:1360.5px;">1025</span>
<span class="t" style="top:283.2px;color:#00e840;font-size:11px;right:1360.5px;">1020</span>
<span class="t" style="top:343.2px;color:#00e840;font-size:11px;right:1360.5px;">1015</span>
<span class="t" style="top:403.2px;color:#00e840;font-size:11px;right:1360.5px;">1010</span>
<span class="t" style="top:463.2px;color:#00e840;font-size:11px;right:1360.5px;">1005</span>
<span class="t" style="top:523.2px;color:#00e840;font-size:11px;right:1360.5px;">1000</span>
<span class="t" style="top:583.2px;color:#00e840;font-size:11px;right:1360.5px;">995</span>
<span class="t" style="top:643.2px;color:#00e840;font-size:11px;right:1360.5px;">990</span>
<span class="t" style="top:703.2px;color:#00e840;font-size:11px;right:1360.5px;">985</span>
<span class="t" style="top:763.2px;color:#00e840;font-size:11px;right:1360.5px;">980</span>
<span class="t" style="top:43.2px;color:#000;font-size:11px;right:1323.5px;">40.0</span>
<span class="t" style="top:133.2px;color:#000;font-size:11px;right:1323.5px;">35.0</span>
<span class="t" style="top:223.2px;color:#000;font-size:11px;right:1323.5px;">30.0</span>
<span class="t" style="top:313.2px;color:#000;font-size:11px;right:1323.5px;">25.0</span>
<span class="t" style="top:403.2px;color:#000;font-size:11px;right:1323.5px;">20.0</span>
<span class="t" style="top:493.2px;color:#000;font-size:11px;right:1323.5px;">15.0</span>
<span class="t" style="top:583.2px;color:#000;font-size:11px;right:1323.5px;">10.0</span>
<span class="t" style="top:673.2px;color:#000;font-size:11px;right:1323.5px;">5.0</span>
<span class="t" style="top:763.2px;color:#000;font-size:11px;right:1323.5px;">0.0</span>
<span class="t" style="top:43.2px;color:#ffdd00;font-size:11px;right:1286.5px;">20</span>
<span class="t" style="top:223.2px;color:#ffdd00;font-size:11px;right:1286.5px;">15</span>
<span class="t" style="top:403.2px;color:#ffdd00;font-size:11px;right:1286.5px;">10</span>
<span class="t" style="top:583.2px;color:#ffdd00;font-size:11px;right:1286.5px;">5</span>
<span class="t" style="top:763.2px;color:#ffdd00;font-size:11px;right:1286.5px;">0</span>
<span class="t" style="top:43.2px;color:#7b3f00;font-size:11px;left:1328.0px;">100</span>
<span class="t" style="top:115.2px;color:#7b3f00;font-size:11px;left:1328.0px;">90</span>
<span class="t" style="top:187.2px;color:#7b3f00;font-size:11px;left:1328.0px;">80</span>
<span class="t" style="top:259.2px;color:#7b3f00;font-size:11px;left:1328.0px;">70</span>
<span class="t" style="top:331.2px;color:#7b3f00;font-size:11px;left:1328.0px;">60</span>
<span class="t" style="top:403.2px;color:#7b3f00;font-size:11px;left:1328.0px;">50</span>
<span class="t" style="top:475.2px;color:#7b3f00;font-size:11px;left:1328.0px;">40</span>
<span class="t" style="top:547.2px;color:#7b3f00;font-size:11px;left:1328.0px;">30</span>
<span class="t" style="top:619.2px;color:#7b3f00;font-size:11px;left:1328.0px;">20</span>
<span class="t" style="top:691.2px;color:#7b3f00;font-size:11px;left:1328.0px;">10</span>
<span class="t" style="top:763.2px;color:#7b3f00;font-size:11px;left:1328.0px;">0</span>
<span class="t" style="top:43.2px;color:#00d4f8;font-size:11px;left:1364.0px;">40.0</span>
<span class="t" style="top:223.2px;color:#00d4f8;font-size:11px;left:1364.0px;">30.0</span>
<span class="t" style="top:403.2px;color:#00d4f8;font-size:11px;left:1364.0px;">20.0</span>
<span class="t" style="top:583.2px;color:#00d4f8;font-size:11px;left:1364.0px;">10.0</span>
<span class="t" style="top:763.2px;color:#00d4f8;font-size:11px;left:1364.0px;">0.0</span>
<span class="t" style="top:43.2px;color:#787878;font-size:11px;left:1402.0px;">360</span>
<span class="t" style="top:43.2px;color:#787878;font-size:11px;left:1423.0px;">N</span>
<span class="t" style="top:103.2px;color:#787878;font-size:11px;left:1402.0px;">330</span>
<span class="t" style="top:163.2px;color:#787878;font-size:11px;left:1402.0px;">300</span>
<span class="t" style="top:223.2px;color:#787878;font-size:11px;left:1402.0px;">270</span>
<span class="t" style="top:223.2px;color:#787878;font-size:11px;left:1422.0px;">W</span>
<span class="t" style="top:283.2px;color:#787878;font-size:11px;left:1402.0px;">240</span>
<span class="t" style="top:343.2px;color:#787878;font-size:11px;left:1402.0px;">210</span>
<span class="t" style="top:403.2px;color:#787878;font-size:11px;left:1402.0px;">180</span>
<span class="t" style="top:403.2px;color:#787878;font-size:11px;left:1422.5px;">S</span>
<span class="t" style="top:463.2px;color:#787878;font-size:11px;left:1402.0px;">150</span>
<span class="t" style="top:523.2px;color:#787878;font-size:11px;left:1402.0px;">120</span>
<span class="t" style="top:583.2px;color:#787878;font-size:11px;left:1402.0px;">90</span>
<span class="t" style="top:583.2px;color:#787878;font-size:11px;left:1420.5px;">O</span>
<span class="t" style="top:643.2px;color:#787878;font-size:11px;left:1402.0px;">60</span>
<span class="t" style="top:703.2px;color:#787878;font-size:11px;left:1402.0px;">30</span>
<span class="t" style="top:763.2px;color:#787878;font-size:11px;left:1402.0px;">0</span>
<span class="t" style="top:763.2px;color:#787878;font-size:11px;left:1420.5px;">N</span>
<span class="t" style="top:777.5px;color:#000;font-size:11px;left:51.8px;width:200px;text-align:center;">00:00</span>
<span class="t" style="top:777.5px;color:#000;font-size:11px;left:100.6px;width:200px;text-align:center;">01:00</span>
<span class="t" style="top:777.5px;color:#000;font-size:11px;left:149.3px;width:200px;text-align:center;">02:00</span>
<span class="t" style="top:777.5px;color:#000;font-size:11px;left:198.1px;width:200px;text-align:center;">03:00</span>
<span class="t" style="top:777.5px;color:#000;font-size:11px;left:246.8px;width:200px;text-align:center;">04:00</span>
<span class="t" style="top:777.5px;color:#000;font-size:11px;left:295.6px;width:200px;text-align:center;">05:00</span>
<span class="t" style="top:777.5px;color:#000;font-size:11px;left:344.3px;width:200px;text-align:center;">06:00</span>
<span class="t" style="top:777.5px;color:#000;font-size:11px;left:393.1px;width:200px;text-align:center;">07:00</span>
<span class="t" style="top:777.5px;color:#000;font-size:11px;left:441.8px;width:200px;text-align:center;">08:00</span>
<span class="t" style="top:777.5px;color:#000;font-size:11px;left:490.5px;width:200px;text-align:center;">09:00</span>
<span class="t" style="top:777.5px;color:#000;font-size:11px;left:539.3px;width:200px;text-align:center;">10:00</span>
<span class="t" style="top:777.5px;color:#000;font-size:11px;left:588.0px;width:200px;text-align:center;">11:00</span>
<span class="t" style="top:777.5px;color:#000;font-size:11px;left:636.8px;width:200px;text-align:center;">12:00</span>
<span class="t" style="top:777.5px;color:#000;font-size:11px;left:685.5px;width:200px;text-align:center;">13:00</span>
<span class="t" style="top:777.5px;color:#000;font-size:11px;left:734.3px;width:200px;text-align:center;">14:00</span>
<span class="t" style="top:777.5px;color:#000;font-size:11px;left:783.0px;width:200px;text-align:center;">15:00</span>
<span class="t" style="top:777.5px;color:#000;font-size:11px;left:831.8px;width:200px;text-align:center;">16:00</span>
<span class="t" style="top:777.5px;color:#000;font-size:11px;left:880.5px;width:200px;text-align:center;">17:00</span>
<span class="t" style="top:777.5px;color:#000;font-size:11px;left:929.3px;width:200px;text-align:center;">18:00</span>
<span class="t" style="top:777.5px;color:#000;font-size:11px;left:978.0px;width:200px;text-align:center;">19:00</span>
<span class="t" style="top:777.5px;color:#000;font-size:11px;left:1026.8px;width:200px;text-align:center;">20:00</span>
<span class="t" style="top:777.5px;color:#000;font-size:11px;left:1075.5px;width:200px;text-align:center;">21:00</span>
<span class="t" style="top:777.5px;color:#000;font-size:11px;left:1124.3px;width:200px;text-align:center;">22:00</span>
<span class="t" style="top:777.5px;color:#000;font-size:11px;left:1173.0px;width:200px;text-align:center;">23:00</span>
<span class="t" style="top:777.5px;color:#000;font-size:11px;left:1221.8px;width:200px;text-align:center;">24:00</span>
<span class="t" style="top:27.7px;color:#0000ff;font-size:11px;left:19.5px;">°C</span>
<span class="t" style="top:27.7px;color:#00e840;font-size:11px;left:48.0px;">hPa</span>
<span class="t" style="top:27.7px;color:#000;font-size:11px;left:79.0px;">km/h</span>
<span class="t" style="top:27.7px;color:#ffdd00;font-size:11px;left:125.0px;">min</span>
<span class="t" style="top:27.2px;color:#7b3f00;font-size:11px;left:1322.0px;">%</span>
<span class="t" style="top:27.2px;color:#00d4f8;font-size:11px;left:1358.0px;">l/m²</span>
<span class="t" style="top:25.7px;color:#787878;font-size:11px;left:1395.0px;">°</span>
<span class="t" style="top:7.5px;color:#000;font-size:16px;left:618.0px;width:200px;text-align:center;">Samstag, 18.04.2026</span>
<span class="t" style="top:6.9px;color:#000;font-size:10.8px;right:0.5px;">Wetterstation Niedersorpe 440m NN</span>
<span class="t" style="top:32.7px;color:#0000ff;font-size:11px;left:175.0px;">Temp. 2m*</span>
<span class="t" style="top:32.7px;color:#0000ff;font-size:11px;left:270.0px;">Temp. 5cm*</span>
<span class="t" style="top:32.7px;color:#7b3f00;font-size:11px;left:365.0px;">Feuchte A.*</span>
<span class="t" style="top:32.7px;color:#00e840;font-size:11px;left:460.0px;">Luftdruck*</span>
<span class="t" style="top:32.7px;color:#00d4f8;font-size:11px;left:555.0px;">Regen*</span>
<span class="t" style="top:32.7px;color:#000;font-size:11px;left:650.0px;">Wind</span>
<span class="t" style="top:32.7px;color:#787878;font-size:11px;left:745.0px;">Richtung*</span>
<span class="t" style="top:32.7px;color:#ffdd00;font-size:11px;left:840.0px;">Sonnenschein</span>
<span class="t" style="top:32.7px;color:#0000ff;font-size:11px;left:935.0px;">Taupunkt*</span>
<span class="t" style="top:32.7px;color:#0000ff;font-size:11px;left:1030.0px;">Windchill</span>
<span class="t" style="top:32.7px;color:#000;font-size:11px;left:1125.0px;">Windböen</span>
<span class="t" style="top:788.3px;color:#000;font-size:11px;left:10.7px;">14:02</span>
<span class="t" style="top:787.9px;color:#000;font-size:11px;left:430.7px;">06:25</span>
<span class="t" style="top:787.9px;color:#000;font-size:11px;left:472.0px;">06:26</span>
<span class="t" style="top:788.2px;color:#000;font-size:11px;left:1114.8px;">20:27</span>
<span class="t" style="top:788.2px;color:#000;font-size:11px;left:1243.9px;">22:16</span>
<span class="t" style="top:809.3px;color:#000;font-size:11.8px;font-weight:bold;left:8.3px;">Sensor</span>
<span class="t" style="top:825.0px;color:#000;font-size:11.8px;font-weight:bold;left:8.3px;">MinWert</span>
<span class="t" style="top:841.0px;color:#000;font-size:11.8px;font-weight:bold;left:8.3px;">MaxWert</span>
<span class="t" style="top:857.0px;color:#000;font-size:11.8px;font-weight:bold;left:8.3px;">Durchschnitt</span>
<span class="t" style="top:873.0px;color:#000;font-size:11.8px;font-weight:bold;left:8.3px;">18.04. 23:59</span>
<span class="t" style="top:809.3px;color:#000;font-size:11.8px;font-weight:bold;left:94.0px;">Temp. 2m</span>
<span class="t" style="top:809.3px;color:#000;font-size:11.8px;font-weight:bold;right:1233.0px;">°C</span>
<span class="t" style="top:824.7px;color:#000;font-size:11px;left:100.0px;">07:07</span>
<span class="t" style="top:824.7px;color:#000;font-size:11px;right:1234.0px;">5.5</span>
<span class="t" style="top:840.7px;color:#000;font-size:11px;left:100.0px;">13:26</span>
<span class="t" style="top:840.7px;color:#000;font-size:11px;right:1234.0px;">19.7</span>
<span class="t" style="top:856.7px;color:#000;font-size:11px;right:1234.0px;">12.45</span>
<span class="t" style="top:872.7px;color:#000;font-size:11px;left:97.0px;">F: 89 %</span>
<span class="t" style="top:873.0px;color:#000;font-size:11.8px;font-weight:bold;right:1233.0px;">10.3</span>
<span class="t" style="top:809.3px;color:#000;font-size:11.8px;font-weight:bold;left:212.0px;">Temp. 5cm</span>
<span class="t" style="top:809.3px;color:#000;font-size:11.8px;font-weight:bold;right:1115.0px;">°C</span>
<span class="t" style="top:824.7px;color:#000;font-size:11px;left:218.0px;">03:20</span>
<span class="t" style="top:824.7px;color:#000;font-size:11px;right:1116.0px;">3.9</span>
<span class="t" style="top:840.7px;color:#000;font-size:11px;left:218.0px;">12:47</span>
<span class="t" style="top:840.7px;color:#000;font-size:11px;right:1116.0px;">30.9</span>
<span class="t" style="top:856.7px;color:#000;font-size:11px;right:1116.0px;">12.95</span>
<span class="t" style="top:873.0px;color:#000;font-size:11.8px;font-weight:bold;right:1115.0px;">9.4</span>
<span class="t" style="top:809.3px;color:#000;font-size:11.8px;font-weight:bold;left:330.0px;">Feuchte A.</span>
<span class="t" style="top:809.3px;color:#000;font-size:11.8px;font-weight:bold;right:997.0px;">%</span>
<span class="t" style="top:824.7px;color:#000;font-size:11px;left:336.0px;">13:49</span>
<span class="t" style="top:824.7px;color:#000;font-size:11px;right:998.0px;">43</span>
<span class="t" style="top:840.7px;color:#000;font-size:11px;left:336.0px;">08:13</span>
<span class="t" style="top:840.7px;color:#000;font-size:11px;right:998.0px;">91</span>
<span class="t" style="top:856.7px;color:#000;font-size:11px;right:998.0px;">72</span>
<span class="t" style="top:872.7px;color:#000;font-size:11px;left:333.0px;">8.53 g/m³</span>
<span class="t" style="top:873.0px;color:#000;font-size:11.8px;font-weight:bold;right:997.0px;">89</span>
<span class="t" style="top:809.3px;color:#000;font-size:11.8px;font-weight:bold;left:448.0px;">Regen</span>
<span class="t" style="top:809.3px;color:#000;font-size:11.8px;font-weight:bold;right:879.0px;">l/m²</span>
<span class="t" style="top:840.7px;color:#000;font-size:11px;left:454.0px;">21:45</span>
<span class="t" style="top:840.7px;color:#000;font-size:11px;right:880.0px;">0.2</span>
<span class="t" style="top:856.7px;color:#000;font-size:11px;left:448.0px;">Gesamt:</span>
<span class="t" style="top:856.7px;color:#000;font-size:11px;right:880.0px;">3.8</span>
<span class="t" style="top:872.7px;color:#000;font-size:11px;left:451.0px;">3.8 l/m²</span>
<span class="t" style="top:873.0px;color:#000;font-size:11.8px;font-weight:bold;right:879.0px;">0.0</span>
<span class="t" style="top:809.3px;color:#000;font-size:11.8px;font-weight:bold;left:566.0px;">Luftdruck</span>
<span class="t" style="top:809.3px;color:#000;font-size:11.8px;font-weight:bold;right:761.0px;">hPa</span>
<span class="t" style="top:824.7px;color:#000;font-size:11px;left:572.0px;">18:17</span>
<span class="t" style="top:824.7px;color:#000;font-size:11px;right:762.0px;">1018.3</span>
<span class="t" style="top:840.7px;color:#000;font-size:11px;left:572.0px;">00:01</span>
<span class="t" style="top:840.7px;color:#000;font-size:11px;right:762.0px;">1021.0</span>
<span class="t" style="top:856.7px;color:#000;font-size:11px;left:566.0px;">^0.9hPa/h</span>
<span class="t" style="top:856.7px;color:#000;font-size:11px;right:762.0px;">1019.6</span>
<span class="t" style="top:872.7px;color:#000;font-size:11px;left:566.0px;">sonnig</span>
<span class="t" style="top:873.0px;color:#000;font-size:11.8px;font-weight:bold;right:761.0px;">1018.5</span>
<span class="t" style="top:809.3px;color:#000;font-size:11.8px;font-weight:bold;left:684.0px;">Sonnenschein</span>
<span class="t" style="top:809.3px;color:#000;font-size:11.8px;font-weight:bold;right:643.0px;">min</span>
<span class="t" style="top:840.7px;color:#000;font-size:11px;left:690.0px;">10:22</span>
<span class="t" style="top:840.7px;color:#000;font-size:11px;right:644.0px;">1</span>
<span class="t" style="top:856.7px;color:#000;font-size:11px;left:687.0px;">2:00 h</span>
<span class="t" style="top:856.7px;color:#000;font-size:11px;right:644.0px;">0</span>
<span class="t" style="top:873.0px;color:#000;font-size:11.8px;font-weight:bold;right:643.0px;">0</span>
<span class="t" style="top:809.3px;color:#000;font-size:11.8px;font-weight:bold;left:802.0px;">Windböen</span>
<span class="t" style="top:809.3px;color:#000;font-size:11.8px;font-weight:bold;right:525.0px;">km/h</span>
<span class="t" style="top:824.7px;color:#000;font-size:11px;left:802.5px;">Ø 10 min.</span>
<span class="t" style="top:824.7px;color:#000;font-size:11px;right:526.0px;">0.0</span>
<span class="t" style="top:840.7px;color:#000;font-size:11px;left:808.0px;">11:03</span>
<span class="t" style="top:840.7px;color:#000;font-size:11px;right:526.0px;">S-SO 16.2</span>
<span class="t" style="top:856.7px;color:#000;font-size:11px;left:808.0px;">59.0 km</span>
<span class="t" style="top:856.7px;color:#000;font-size:11px;right:526.0px;">2.5</span>
<span class="t" style="top:872.7px;color:#000;font-size:11px;left:808.0px;">0 Bft N</span>
<span class="t" style="top:873.0px;color:#000;font-size:11.8px;font-weight:bold;right:525.0px;">0.0</span>
<span class="t" style="top:809.3px;color:#000;font-size:11.8px;font-weight:bold;left:920.0px;">Wind</span>
<span class="t" style="top:809.3px;color:#000;font-size:11.8px;font-weight:bold;right:410.0px;">km/h</span>
<span class="t" style="top:824.7px;color:#000;font-size:11px;left:920.5px;">Ø 10 min.</span>
<span class="t" style="top:824.7px;color:#000;font-size:11px;right:411.0px;">0.0</span>
<span class="t" style="top:840.7px;color:#000;font-size:11px;left:926.0px;">10:30</span>
<span class="t" style="top:840.7px;color:#000;font-size:11px;right:411.0px;">S 4.7</span>
<span class="t" style="top:856.7px;color:#000;font-size:11px;left:926.0px;">59.0 km</span>
<span class="t" style="top:856.7px;color:#000;font-size:11px;right:411.0px;">1.4</span>
<span class="t" style="top:872.7px;color:#000;font-size:11px;left:926.0px;">0 Bft S-SO</span>
<span class="t" style="top:873.0px;color:#000;font-size:11.8px;font-weight:bold;right:410.0px;">0.0</span>
<span class="t" style="top:897.2px;color:#000;font-size:11px;left:8.3px;">Wetterdaten</span>
<span class="t" style="top:913.2px;color:#000;font-size:11px;left:8.3px;">18.04.26 23:59</span>
<span class="t" style="top:897.2px;color:#000;font-size:11px;left:94.0px;">Temp. I.</span>
<span class="t" style="top:897.2px;color:#000;font-size:11px;right:1233.0px;">22.3 °C</span>
<span class="t" style="top:913.2px;color:#000;font-size:11px;left:94.0px;">Feuchte I.</span>
<span class="t" style="top:913.2px;color:#000;font-size:11px;right:1233.0px;">46 %</span>
<span class="t" style="top:897.2px;color:#000;font-size:11px;left:212.0px;">Temp. 2m</span>
<span class="t" style="top:897.2px;color:#000;font-size:11px;right:1115.0px;">10.3 °C</span>
<span class="t" style="top:913.2px;color:#000;font-size:11px;left:212.0px;">Feuchte A.</span>
<span class="t" style="top:913.2px;color:#000;font-size:11px;right:1115.0px;">89 %</span>
<span class="t" style="top:897.2px;color:#000;font-size:11px;left:330.0px;">Luftdruck</span>
<span class="t" style="top:897.2px;color:#000;font-size:11px;right:997.0px;">1018.5 hPa</span>
<span class="t" style="top:913.2px;color:#000;font-size:11px;left:330.0px;">Regen</span>
<span class="t" style="top:913.2px;color:#000;font-size:11px;right:997.0px;">0.0 l/m²</span>
<span class="t" style="top:897.2px;color:#000;font-size:11px;left:448.0px;">Wind</span>
<span class="t" style="top:897.2px;color:#000;font-size:11px;right:879.0px;">0.0 km/h</span>
<span class="t" style="top:913.2px;color:#000;font-size:11px;left:448.0px;">Richtung</span>
<span class="t" style="top:913.2px;color:#000;font-size:11px;right:879.0px;">S-SO</span>
<span class="t" style="top:897.2px;color:#000;font-size:11px;left:1099.7px;">WR 155°</span>
<span class="t" style="top:913.2px;color:#000;font-size:11px;left:1099.7px;">WC 10.3°C</span>
<span class="t" style="top:897.2px;color:#000;font-size:11px;left:1169.5px;">Solar</span>
<span class="t" style="top:913.2px;color:#000;font-size:11px;left:1169.5px;">ET</span>
<span class="t" style="top:897.2px;color:#000;font-size:11px;left:1250.0px;">0 W/m²</span>
<span class="t" style="top:913.2px;color:#000;font-size:11px;left:1230.0px;">0.000 mm</span>
<span class="t" style="top:897.2px;color:#000;font-size:11px;left:1309.6px;">UV</span>
<span class="t" style="top:913.2px;color:#000;font-size:11px;left:1309.6px;">Taupunkt</span>
<span class="t" style="top:897.2px;color:#000;font-size:11px;left:1385.5px;">0.0 UV-I</span>
<span class="t" style="top:913.2px;color:#000;font-size:11px;left:1385.5px;">8.6 °C</span>
</body></html>
